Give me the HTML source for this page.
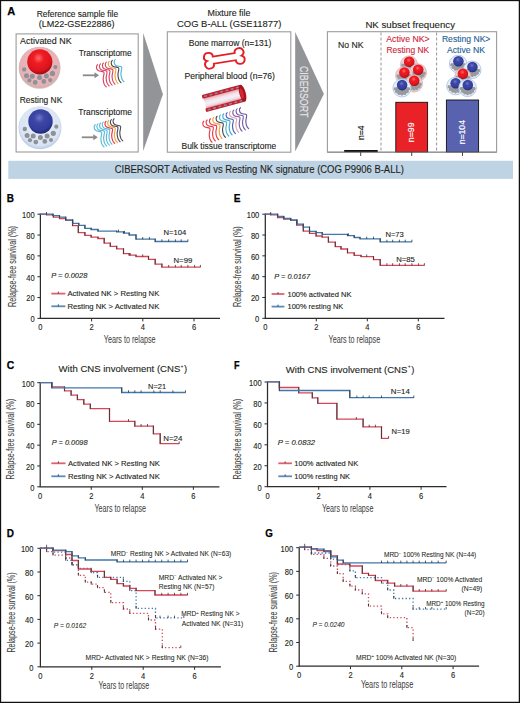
<!DOCTYPE html>
<html><head><meta charset="utf-8"><title>Figure</title>
<style>
html,body{margin:0;padding:0;background:#fff;}
body{width:520px;height:703px;overflow:hidden;font-family:"Liberation Sans",sans-serif;}
svg{display:block;}
</style></head><body>
<svg width="520" height="703" viewBox="0 0 520 703" font-family="Liberation Sans, sans-serif">
<defs>
<radialGradient id="gRedNuc" cx="0.45" cy="0.35" r="0.7">
 <stop offset="0" stop-color="#ff6a6a"/><stop offset="0.3" stop-color="#f01c24"/><stop offset="0.72" stop-color="#dc141c"/><stop offset="0.9" stop-color="#a80c14"/><stop offset="1" stop-color="#6a080c"/>
</radialGradient>
<radialGradient id="gBlueNuc" cx="0.45" cy="0.35" r="0.7">
 <stop offset="0" stop-color="#7078c8"/><stop offset="0.3" stop-color="#3d47a6"/><stop offset="0.72" stop-color="#323d9c"/><stop offset="0.9" stop-color="#232b7a"/><stop offset="1" stop-color="#141a52"/>
</radialGradient>
<radialGradient id="gRedCell" cx="0.5" cy="0.45" r="0.55">
 <stop offset="0" stop-color="#ebbcbe"/><stop offset="0.85" stop-color="#e6b2b5"/><stop offset="1" stop-color="#d9a9ab"/>
</radialGradient>
<radialGradient id="gBlueCell" cx="0.5" cy="0.45" r="0.55">
 <stop offset="0" stop-color="#e6edf7"/><stop offset="0.85" stop-color="#dbe5f3"/><stop offset="1" stop-color="#c5d5ec"/>
</radialGradient>
<linearGradient id="gVessel" x1="0" y1="0" x2="0" y2="1">
 <stop offset="0" stop-color="#e9a3b0"/><stop offset="0.3" stop-color="#f6dfe6"/><stop offset="0.55" stop-color="#eef3fa"/><stop offset="0.8" stop-color="#f3dbe3"/><stop offset="1" stop-color="#e59aa8"/>
</linearGradient>
</defs>
<rect x="0" y="0" width="520" height="703" fill="#ffffff"/>
<text x="7.20" y="15.20" font-size="11.8" fill="#000" font-weight="bold" textLength="8.00" lengthAdjust="spacingAndGlyphs" stroke="#000" stroke-width="0.25" >A</text>
<text x="36.70" y="16.90" font-size="8.5" fill="#231f20" textLength="81.40" lengthAdjust="spacingAndGlyphs" stroke="#231f20" stroke-width="0.12" >Reference sample file</text>
<text x="38.70" y="27.30" font-size="8.8" fill="#231f20" textLength="75.90" lengthAdjust="spacingAndGlyphs" stroke="#231f20" stroke-width="0.12" >(LM22-GSE22886)</text>
<text x="207.50" y="15.50" font-size="8.2" fill="#231f20" textLength="43.00" lengthAdjust="spacingAndGlyphs" stroke="#231f20" stroke-width="0.12" >Mixture file</text>
<text x="177.00" y="27.00" font-size="9.5" fill="#231f20" textLength="104.30" lengthAdjust="spacingAndGlyphs" stroke="#231f20" stroke-width="0.12" >COG B-ALL (GSE11877)</text>
<text x="365.40" y="27.70" font-size="9.3" fill="#231f20" textLength="89.60" lengthAdjust="spacingAndGlyphs" stroke="#231f20" stroke-width="0.12" >NK subset frequency</text>
<rect x="16.1" y="33.9" width="122.1" height="118.1" fill="none" stroke="#9c9c9c" stroke-width="1.1"/>
<rect x="167.3" y="31.8" width="123.5" height="120.4" fill="none" stroke="#9c9c9c" stroke-width="1.1"/>
<rect x="327.4" y="31.7" width="169.2" height="120.4" fill="none" stroke="#9c9c9c" stroke-width="1.1"/>
<polygon points="143.2,32.9 162.9,94.3 143.2,151.0" fill="#939498"/>
<polygon points="295.2,32.1 323.9,93.9 295.2,151.4" fill="#939498"/>
<text x="0" y="0" transform="translate(299.90,66.00) rotate(90)" font-size="10.4" fill="#e8e8ea" textLength="51.30" lengthAdjust="spacingAndGlyphs" stroke="#e8e8ea" stroke-width="0.15">CIBERSORT</text>
<circle cx="39.6" cy="67.89999999999999" r="20.900000000000002" fill="#c9c3c4"/>
<circle cx="39.6" cy="67.3" r="20.6" fill="url(#gRedCell)"/>
<circle cx="24.2" cy="69.4" r="2.2" fill="#8e9298"/>
<circle cx="26.5" cy="75.8" r="2.5" fill="#8e9298"/>
<circle cx="29.4" cy="80.4" r="2.1" fill="#8e9298"/>
<circle cx="32.3" cy="76.3" r="2.5" fill="#8e9298"/>
<circle cx="35.2" cy="82.4" r="2.4" fill="#8e9298"/>
<circle cx="39.5" cy="77.5" r="2.5" fill="#8e9298"/>
<circle cx="43.8" cy="81.5" r="2.4" fill="#8e9298"/>
<circle cx="46.4" cy="76.1" r="2.5" fill="#8e9298"/>
<circle cx="50.2" cy="80.1" r="2.1" fill="#8e9298"/>
<circle cx="52.5" cy="73.4" r="2.6" fill="#8e9298"/>
<circle cx="55.4" cy="67.1" r="2.1" fill="#8e9298"/>
<circle cx="39.8" cy="61.8" r="12.6" fill="url(#gRedNuc)"/>
<circle cx="40.0" cy="127.8" r="21.4" fill="#b9cbe6"/>
<circle cx="40.0" cy="127.2" r="21.0" fill="url(#gBlueCell)"/>
<circle cx="24.8" cy="129" r="2.2" fill="#8e9298"/>
<circle cx="27.1" cy="135.4" r="2.5" fill="#8e9298"/>
<circle cx="30" cy="140.2" r="2.1" fill="#8e9298"/>
<circle cx="33.2" cy="135.9" r="2.5" fill="#8e9298"/>
<circle cx="35.8" cy="142.1" r="2.4" fill="#8e9298"/>
<circle cx="40.4" cy="137.4" r="2.5" fill="#8e9298"/>
<circle cx="44.8" cy="141.4" r="2.4" fill="#8e9298"/>
<circle cx="47.1" cy="135.9" r="2.5" fill="#8e9298"/>
<circle cx="51" cy="140" r="2.1" fill="#8e9298"/>
<circle cx="53.3" cy="133.3" r="2.6" fill="#8e9298"/>
<circle cx="56.3" cy="126.7" r="2.1" fill="#8e9298"/>
<circle cx="40.5" cy="121.5" r="12.2" fill="url(#gBlueNuc)"/>
<text x="20.10" y="43.60" font-size="8.5" fill="#231f20" textLength="51.50" lengthAdjust="spacingAndGlyphs" stroke="#231f20" stroke-width="0.12" >Activated NK</text>
<text x="19.80" y="103.00" font-size="8.5" fill="#231f20" textLength="42.50" lengthAdjust="spacingAndGlyphs" stroke="#231f20" stroke-width="0.12" >Resting NK</text>
<text x="78.70" y="55.60" font-size="8.2" fill="#231f20" textLength="52.90" lengthAdjust="spacingAndGlyphs" stroke="#231f20" stroke-width="0.12" >Transcriptome</text>
<text x="78.30" y="115.40" font-size="8.2" fill="#231f20" textLength="53.60" lengthAdjust="spacingAndGlyphs" stroke="#231f20" stroke-width="0.12" >Transcriptome</text>
<line x1="82.8" y1="75.3" x2="95.5" y2="75.3" stroke="#8a8a8a" stroke-width="1.8"/>
<polygon points="94.5,72.3 99.0,75.3 94.5,78.3" fill="#8a8a8a"/>
<line x1="81.8" y1="137.3" x2="94.3" y2="137.3" stroke="#8a8a8a" stroke-width="1.8"/>
<polygon points="93.3,134.3 97.8,137.3 93.3,140.3" fill="#8a8a8a"/>
<path d="M97.50,64.70 C95.90,65.90 96.10,69.30 98.20,70.50 C99.90,71.50 102.70,71.30 103.80,72.10 C104.90,73.10 103.10,76.20 103.20,78.90 C103.30,82.20 104.30,85.20 106.20,86.80 " fill="none" stroke="#d64561" stroke-width="1.15" stroke-linecap="round"/>
<path d="M100.45,63.85 C98.85,65.05 99.05,68.45 101.15,69.65 C102.85,70.65 105.65,70.45 106.75,71.25 C107.85,72.25 106.05,75.35 106.15,78.05 C106.25,81.35 107.25,84.35 109.15,85.95 " fill="none" stroke="#d64561" stroke-width="1.15" stroke-linecap="round"/>
<path d="M103.40,63.00 C101.80,64.20 102.00,67.60 104.10,68.80 C105.80,69.80 108.60,69.60 109.70,70.40 C110.80,71.40 109.00,74.50 109.10,77.20 C109.20,80.50 110.20,83.50 112.10,85.10 " fill="none" stroke="#d64561" stroke-width="1.15" stroke-linecap="round"/>
<path d="M106.35,62.15 C104.75,63.35 104.95,66.75 107.05,67.95 C108.75,68.95 111.55,68.75 112.65,69.55 C113.75,70.55 111.95,73.65 112.05,76.35 C112.15,79.65 113.15,82.65 115.05,84.25 " fill="none" stroke="#d64561" stroke-width="1.15" stroke-linecap="round"/>
<path d="M109.30,61.30 C107.70,62.50 107.90,65.90 110.00,67.10 C111.70,68.10 114.50,67.90 115.60,68.70 C116.70,69.70 114.90,72.80 115.00,75.50 C115.10,78.80 116.10,81.80 118.00,83.40 " fill="none" stroke="#f6a13a" stroke-width="1.15" stroke-linecap="round"/>
<path d="M112.25,60.45 C110.65,61.65 110.85,65.05 112.95,66.25 C114.65,67.25 117.45,67.05 118.55,67.85 C119.65,68.85 117.85,71.95 117.95,74.65 C118.05,77.95 119.05,80.95 120.95,82.55 " fill="none" stroke="#4a4a55" stroke-width="1.15" stroke-linecap="round"/>
<path d="M115.20,59.60 C113.60,60.80 113.80,64.20 115.90,65.40 C117.60,66.40 120.40,66.20 121.50,67.00 C122.60,68.00 120.80,71.10 120.90,73.80 C121.00,77.10 122.00,80.10 123.90,81.70 " fill="none" stroke="#4ab7dc" stroke-width="1.15" stroke-linecap="round"/>
<path d="M95.20,124.70 C93.60,125.90 93.80,129.30 95.90,130.50 C97.60,131.50 100.40,131.30 101.50,132.10 C102.60,133.10 100.80,136.20 100.90,138.90 C101.00,142.20 102.00,145.20 103.90,146.80 " fill="none" stroke="#5bbad8" stroke-width="1.15" stroke-linecap="round"/>
<path d="M97.90,123.85 C96.30,125.05 96.50,128.45 98.60,129.65 C100.30,130.65 103.10,130.45 104.20,131.25 C105.30,132.25 103.50,135.35 103.60,138.05 C103.70,141.35 104.70,144.35 106.60,145.95 " fill="none" stroke="#5bbad8" stroke-width="1.15" stroke-linecap="round"/>
<path d="M100.60,123.00 C99.00,124.20 99.20,127.60 101.30,128.80 C103.00,129.80 105.80,129.60 106.90,130.40 C108.00,131.40 106.20,134.50 106.30,137.20 C106.40,140.50 107.40,143.50 109.30,145.10 " fill="none" stroke="#5bbad8" stroke-width="1.15" stroke-linecap="round"/>
<path d="M103.30,122.15 C101.70,123.35 101.90,126.75 104.00,127.95 C105.70,128.95 108.50,128.75 109.60,129.55 C110.70,130.55 108.90,133.65 109.00,136.35 C109.10,139.65 110.10,142.65 112.00,144.25 " fill="none" stroke="#5bbad8" stroke-width="1.15" stroke-linecap="round"/>
<path d="M106.00,121.30 C104.40,122.50 104.60,125.90 106.70,127.10 C108.40,128.10 111.20,127.90 112.30,128.70 C113.40,129.70 111.60,132.80 111.70,135.50 C111.80,138.80 112.80,141.80 114.70,143.40 " fill="none" stroke="#e8303a" stroke-width="1.15" stroke-linecap="round"/>
<path d="M108.70,120.45 C107.10,121.65 107.30,125.05 109.40,126.25 C111.10,127.25 113.90,127.05 115.00,127.85 C116.10,128.85 114.30,131.95 114.40,134.65 C114.50,137.95 115.50,140.95 117.40,142.55 " fill="none" stroke="#f6a13a" stroke-width="1.15" stroke-linecap="round"/>
<path d="M111.40,119.60 C109.80,120.80 110.00,124.20 112.10,125.40 C113.80,126.40 116.60,126.20 117.70,127.00 C118.80,128.00 117.00,131.10 117.10,133.80 C117.20,137.10 118.20,140.10 120.10,141.70 " fill="none" stroke="#4a4a55" stroke-width="1.15" stroke-linecap="round"/>
<path d="M114.10,118.75 C112.50,119.95 112.70,123.35 114.80,124.55 C116.50,125.55 119.30,125.35 120.40,126.15 C121.50,127.15 119.70,130.25 119.80,132.95 C119.90,136.25 120.90,139.25 122.80,140.85 " fill="none" stroke="#4a4a55" stroke-width="1.15" stroke-linecap="round"/>
<text x="188.80" y="45.70" font-size="8.2" fill="#231f20" textLength="82.50" lengthAdjust="spacingAndGlyphs" stroke="#231f20" stroke-width="0.12" >Bone marrow (n=131)</text>
<text x="184.50" y="79.40" font-size="8.2" fill="#231f20" textLength="90.50" lengthAdjust="spacingAndGlyphs" stroke="#231f20" stroke-width="0.12" >Peripheral blood (n=76)</text>
<text x="181.50" y="148.60" font-size="8.2" fill="#231f20" textLength="94.70" lengthAdjust="spacingAndGlyphs" stroke="#231f20" stroke-width="0.12" >Bulk tissue transcriptome</text>
<path d="M-11.4,-4 L11.4,-4 A4.6,4.6 0 1,1 17.88,0 A4.6,4.6 0 1,1 11.4,4 L-11.4,4 A4.6,4.6 0 1,1 -17.88,0 A4.6,4.6 0 1,1 -11.4,-4 Z" transform="translate(224.3,58.4) rotate(-9) scale(0.97,0.9)" fill="#fff" stroke="#e31e24" stroke-width="2"/>
<g transform="translate(224.2,98.2) rotate(-15)">
<rect x="-20" y="-5.2" width="39" height="10.4" fill="url(#gVessel)"/>
<rect x="-21" y="-8.8" width="40" height="3.8" rx="1.2" fill="#c8202e"/>
<rect x="-21" y="5.0" width="40" height="3.8" rx="1.2" fill="#c8202e"/>
<rect x="-19.00" y="-7.6" width="3.2" height="1.5" rx="0.7" fill="#7e93a3"/>
<rect x="-19.00" y="6.2" width="3.2" height="1.5" rx="0.7" fill="#7e93a3"/>
<rect x="-13.50" y="-7.6" width="3.2" height="1.5" rx="0.7" fill="#7e93a3"/>
<rect x="-13.50" y="6.2" width="3.2" height="1.5" rx="0.7" fill="#7e93a3"/>
<rect x="-8.00" y="-7.6" width="3.2" height="1.5" rx="0.7" fill="#7e93a3"/>
<rect x="-8.00" y="6.2" width="3.2" height="1.5" rx="0.7" fill="#7e93a3"/>
<rect x="-2.50" y="-7.6" width="3.2" height="1.5" rx="0.7" fill="#7e93a3"/>
<rect x="-2.50" y="6.2" width="3.2" height="1.5" rx="0.7" fill="#7e93a3"/>
<rect x="3.00" y="-7.6" width="3.2" height="1.5" rx="0.7" fill="#7e93a3"/>
<rect x="3.00" y="6.2" width="3.2" height="1.5" rx="0.7" fill="#7e93a3"/>
<rect x="8.50" y="-7.6" width="3.2" height="1.5" rx="0.7" fill="#7e93a3"/>
<rect x="8.50" y="6.2" width="3.2" height="1.5" rx="0.7" fill="#7e93a3"/>
<rect x="14.00" y="-7.6" width="3.2" height="1.5" rx="0.7" fill="#7e93a3"/>
<rect x="14.00" y="6.2" width="3.2" height="1.5" rx="0.7" fill="#7e93a3"/>
<ellipse cx="19" cy="0" rx="3.2" ry="8.8" fill="#a8141e"/>
<ellipse cx="18.2" cy="0" rx="1.6" ry="5.2" fill="#d42a38"/>
</g>
<path d="M203.80,121.20 C202.28,122.34 202.47,125.57 204.47,126.71 C206.08,127.66 208.74,127.47 209.79,128.23 C210.83,129.18 209.12,132.12 209.22,134.69 C209.31,137.82 210.26,140.68 212.06,142.19 " fill="none" stroke="#e63a48" stroke-width="1.15" stroke-linecap="round"/>
<path d="M207.13,119.97 C205.61,121.11 205.80,124.34 207.80,125.48 C209.41,126.43 212.07,126.24 213.12,127.00 C214.16,127.95 212.45,130.90 212.55,133.46 C212.64,136.59 213.59,139.44 215.40,140.97 " fill="none" stroke="#e63a48" stroke-width="1.15" stroke-linecap="round"/>
<path d="M210.46,118.74 C208.94,119.88 209.13,123.11 211.12,124.25 C212.74,125.20 215.40,125.01 216.44,125.77 C217.49,126.72 215.78,129.67 215.88,132.23 C215.97,135.37 216.92,138.22 218.72,139.74 " fill="none" stroke="#e63a48" stroke-width="1.15" stroke-linecap="round"/>
<path d="M213.79,117.51 C212.27,118.65 212.46,121.88 214.46,123.02 C216.07,123.97 218.73,123.78 219.78,124.54 C220.82,125.49 219.11,128.44 219.21,131.00 C219.30,134.13 220.25,136.99 222.06,138.50 " fill="none" stroke="#f6a13a" stroke-width="1.15" stroke-linecap="round"/>
<path d="M217.12,116.28 C215.60,117.42 215.79,120.65 217.78,121.79 C219.40,122.74 222.06,122.55 223.11,123.31 C224.15,124.26 222.44,127.20 222.53,129.77 C222.63,132.91 223.58,135.75 225.38,137.28 " fill="none" stroke="#4a4a55" stroke-width="1.15" stroke-linecap="round"/>
<path d="M220.45,115.05 C218.93,116.19 219.12,119.42 221.12,120.56 C222.73,121.51 225.39,121.32 226.44,122.08 C227.48,123.03 225.77,125.97 225.87,128.54 C225.96,131.68 226.91,134.53 228.72,136.04 " fill="none" stroke="#45b5d5" stroke-width="1.15" stroke-linecap="round"/>
<path d="M223.78,113.82 C222.26,114.96 222.45,118.19 224.44,119.33 C226.06,120.28 228.72,120.09 229.76,120.85 C230.81,121.80 229.10,124.75 229.19,127.31 C229.29,130.44 230.24,133.30 232.04,134.81 " fill="none" stroke="#3fa9c8" stroke-width="1.15" stroke-linecap="round"/>
<path d="M227.11,112.59 C225.59,113.73 225.78,116.96 227.78,118.10 C229.39,119.05 232.05,118.86 233.10,119.62 C234.14,120.57 232.43,123.52 232.53,126.08 C232.62,129.22 233.57,132.06 235.38,133.59 " fill="none" stroke="#4a5fc0" stroke-width="1.15" stroke-linecap="round"/>
<path d="M230.44,111.36 C228.92,112.50 229.11,115.73 231.10,116.87 C232.72,117.82 235.38,117.63 236.43,118.39 C237.47,119.34 235.76,122.28 235.85,124.85 C235.95,127.98 236.90,130.84 238.70,132.35 " fill="none" stroke="#e8a0a8" stroke-width="1.15" stroke-linecap="round"/>
<path d="M233.77,110.13 C232.25,111.27 232.44,114.50 234.44,115.64 C236.05,116.59 238.71,116.40 239.75,117.16 C240.80,118.11 239.09,121.05 239.19,123.62 C239.28,126.75 240.23,129.60 242.03,131.12 " fill="none" stroke="#7a5fa8" stroke-width="1.15" stroke-linecap="round"/>
<path d="M237.10,108.90 C235.58,110.04 235.77,113.27 237.77,114.41 C239.38,115.36 242.04,115.17 243.09,115.93 C244.13,116.88 242.42,119.83 242.52,122.39 C242.61,125.53 243.56,128.38 245.37,129.90 " fill="none" stroke="#7a5fa8" stroke-width="1.15" stroke-linecap="round"/>
<path d="M240.43,107.67 C238.91,108.81 239.10,112.04 241.09,113.18 C242.71,114.13 245.37,113.94 246.42,114.70 C247.46,115.65 245.75,118.59 245.84,121.16 C245.94,124.30 246.89,127.14 248.69,128.66 " fill="none" stroke="#6f55a0" stroke-width="1.15" stroke-linecap="round"/>
<text x="338.00" y="47.50" font-size="8.8" fill="#231f20" textLength="25.50" lengthAdjust="spacingAndGlyphs" stroke="#231f20" stroke-width="0.12" >No NK</text>
<text x="386.30" y="41.70" font-size="8.8" fill="#d21f3c" textLength="43.40" lengthAdjust="spacingAndGlyphs" stroke="#d21f3c" stroke-width="0.12" >Active NK&gt;</text>
<text x="386.50" y="52.70" font-size="8.8" fill="#d21f3c" textLength="42.70" lengthAdjust="spacingAndGlyphs" stroke="#d21f3c" stroke-width="0.12" >Resting NK</text>
<text x="441.90" y="41.70" font-size="8.8" fill="#1f5f96" textLength="48.50" lengthAdjust="spacingAndGlyphs" stroke="#1f5f96" stroke-width="0.12" >Resting NK&gt;</text>
<text x="447.00" y="52.70" font-size="8.8" fill="#1f5f96" textLength="38.00" lengthAdjust="spacingAndGlyphs" stroke="#1f5f96" stroke-width="0.12" >Active NK</text>
<line x1="381.0" y1="32.5" x2="381.0" y2="151.5" stroke="#8a8a8a" stroke-width="0.9" stroke-dasharray="3,2"/>
<line x1="436.6" y1="32.5" x2="436.6" y2="151.5" stroke="#8a8a8a" stroke-width="0.9" stroke-dasharray="3,2"/>
<rect x="344.2" y="150.0" width="33.5" height="2.2" fill="#111"/>
<rect x="395.8" y="102.3" width="31.8" height="49.8" fill="#e92228" stroke="#111" stroke-width="0.9"/>
<rect x="446.4" y="100.0" width="32.2" height="52.1" fill="#5862ae" stroke="#111" stroke-width="0.9"/>
<line x1="327.4" y1="152.2" x2="496.6" y2="152.2" stroke="#8a8a8a" stroke-width="1.1"/>
<line x1="360.7" y1="152.2" x2="360.7" y2="156.0" stroke="#333" stroke-width="0.9"/>
<line x1="411.7" y1="152.2" x2="411.7" y2="156.0" stroke="#333" stroke-width="0.9"/>
<line x1="462.5" y1="152.2" x2="462.5" y2="156.0" stroke="#333" stroke-width="0.9"/>
<text x="0" y="0" transform="translate(364.00,140.00) rotate(-90)" font-size="9.0" fill="#111" textLength="14.60" lengthAdjust="spacingAndGlyphs" stroke="#111" stroke-width="0.15">n=4</text>
<text x="0" y="0" transform="translate(413.70,142.20) rotate(-90)" font-size="8.6" fill="#fff" textLength="19.80" lengthAdjust="spacingAndGlyphs" stroke="#fff" stroke-width="0.15">n=99</text>
<text x="0" y="0" transform="translate(464.60,144.30) rotate(-90)" font-size="8.6" fill="#fff" textLength="24.30" lengthAdjust="spacingAndGlyphs" stroke="#fff" stroke-width="0.15">n=104</text>
<circle cx="409.0" cy="64.5" r="8.6" fill="#ecd0d2" stroke="#d7b3b6" stroke-width="0.8"/>
<path d="M401.60,63.70 A7.40,7.40 0 0,0 416.40,63.70 Z" fill="#979a9e"/>
<circle cx="415.78" cy="65.44" r="1.1" fill="#979a9e"/>
<circle cx="414.39" cy="68.16" r="1.1" fill="#979a9e"/>
<circle cx="411.98" cy="70.03" r="1.1" fill="#979a9e"/>
<circle cx="409.00" cy="70.70" r="1.1" fill="#979a9e"/>
<circle cx="406.02" cy="70.03" r="1.1" fill="#979a9e"/>
<circle cx="403.61" cy="68.16" r="1.1" fill="#979a9e"/>
<circle cx="402.22" cy="65.44" r="1.1" fill="#979a9e"/>
<circle cx="409.2" cy="61.7" r="5.3" fill="url(#gRedNuc)"/>
<circle cx="418.0" cy="72.5" r="8.6" fill="#ecd0d2" stroke="#d7b3b6" stroke-width="0.8"/>
<path d="M410.60,71.70 A7.40,7.40 0 0,0 425.40,71.70 Z" fill="#979a9e"/>
<circle cx="424.78" cy="73.44" r="1.1" fill="#979a9e"/>
<circle cx="423.39" cy="76.16" r="1.1" fill="#979a9e"/>
<circle cx="420.98" cy="78.03" r="1.1" fill="#979a9e"/>
<circle cx="418.00" cy="78.70" r="1.1" fill="#979a9e"/>
<circle cx="415.02" cy="78.03" r="1.1" fill="#979a9e"/>
<circle cx="412.61" cy="76.16" r="1.1" fill="#979a9e"/>
<circle cx="411.22" cy="73.44" r="1.1" fill="#979a9e"/>
<circle cx="418.2" cy="69.7" r="5.3" fill="url(#gRedNuc)"/>
<circle cx="404.2" cy="75.4" r="8.6" fill="#ecd0d2" stroke="#d7b3b6" stroke-width="0.8"/>
<path d="M396.80,74.60 A7.40,7.40 0 0,0 411.60,74.60 Z" fill="#979a9e"/>
<circle cx="410.98" cy="76.34" r="1.1" fill="#979a9e"/>
<circle cx="409.59" cy="79.06" r="1.1" fill="#979a9e"/>
<circle cx="407.18" cy="80.93" r="1.1" fill="#979a9e"/>
<circle cx="404.20" cy="81.60" r="1.1" fill="#979a9e"/>
<circle cx="401.22" cy="80.93" r="1.1" fill="#979a9e"/>
<circle cx="398.81" cy="79.06" r="1.1" fill="#979a9e"/>
<circle cx="397.42" cy="76.34" r="1.1" fill="#979a9e"/>
<circle cx="404.4" cy="72.60000000000001" r="5.3" fill="url(#gRedNuc)"/>
<circle cx="414.0" cy="83.5" r="8.6" fill="#ecd0d2" stroke="#d7b3b6" stroke-width="0.8"/>
<path d="M406.60,82.70 A7.40,7.40 0 0,0 421.40,82.70 Z" fill="#979a9e"/>
<circle cx="420.78" cy="84.44" r="1.1" fill="#979a9e"/>
<circle cx="419.39" cy="87.16" r="1.1" fill="#979a9e"/>
<circle cx="416.98" cy="89.03" r="1.1" fill="#979a9e"/>
<circle cx="414.00" cy="89.70" r="1.1" fill="#979a9e"/>
<circle cx="411.02" cy="89.03" r="1.1" fill="#979a9e"/>
<circle cx="408.61" cy="87.16" r="1.1" fill="#979a9e"/>
<circle cx="407.22" cy="84.44" r="1.1" fill="#979a9e"/>
<circle cx="414.2" cy="80.7" r="5.3" fill="url(#gRedNuc)"/>
<circle cx="401.9" cy="88.0" r="9.0" fill="#e9eff8" stroke="#b3cbe9" stroke-width="1.0"/>
<path d="M394.10,87.20 A7.80,7.80 0 0,0 409.70,87.20 Z" fill="#979a9e"/>
<circle cx="409.07" cy="89.04" r="1.1" fill="#979a9e"/>
<circle cx="407.60" cy="91.92" r="1.1" fill="#979a9e"/>
<circle cx="405.05" cy="93.90" r="1.1" fill="#979a9e"/>
<circle cx="401.90" cy="94.60" r="1.1" fill="#979a9e"/>
<circle cx="398.75" cy="93.90" r="1.1" fill="#979a9e"/>
<circle cx="396.20" cy="91.92" r="1.1" fill="#979a9e"/>
<circle cx="394.73" cy="89.04" r="1.1" fill="#979a9e"/>
<circle cx="402.09999999999997" cy="85.1" r="5.3" fill="url(#gBlueNuc)"/>
<circle cx="458.2" cy="64.0" r="8.8" fill="#e9eff8" stroke="#b3cbe9" stroke-width="1.0"/>
<path d="M450.60,63.20 A7.60,7.60 0 0,0 465.80,63.20 Z" fill="#979a9e"/>
<circle cx="465.17" cy="64.99" r="1.1" fill="#979a9e"/>
<circle cx="463.75" cy="67.79" r="1.1" fill="#979a9e"/>
<circle cx="461.27" cy="69.71" r="1.1" fill="#979a9e"/>
<circle cx="458.20" cy="70.40" r="1.1" fill="#979a9e"/>
<circle cx="455.13" cy="69.71" r="1.1" fill="#979a9e"/>
<circle cx="452.65" cy="67.79" r="1.1" fill="#979a9e"/>
<circle cx="451.23" cy="64.99" r="1.1" fill="#979a9e"/>
<circle cx="458.4" cy="61.2" r="5.3" fill="url(#gBlueNuc)"/>
<circle cx="472.2" cy="69.8" r="8.8" fill="#e9eff8" stroke="#b3cbe9" stroke-width="1.0"/>
<path d="M464.60,69.00 A7.60,7.60 0 0,0 479.80,69.00 Z" fill="#979a9e"/>
<circle cx="479.17" cy="70.79" r="1.1" fill="#979a9e"/>
<circle cx="477.75" cy="73.59" r="1.1" fill="#979a9e"/>
<circle cx="475.27" cy="75.51" r="1.1" fill="#979a9e"/>
<circle cx="472.20" cy="76.20" r="1.1" fill="#979a9e"/>
<circle cx="469.13" cy="75.51" r="1.1" fill="#979a9e"/>
<circle cx="466.65" cy="73.59" r="1.1" fill="#979a9e"/>
<circle cx="465.23" cy="70.79" r="1.1" fill="#979a9e"/>
<circle cx="472.4" cy="67.0" r="5.3" fill="url(#gBlueNuc)"/>
<circle cx="462.7" cy="76.5" r="8.0" fill="#ecd0d2" stroke="#d7b3b6" stroke-width="0.8"/>
<path d="M455.90,75.70 A6.80,6.80 0 0,0 469.50,75.70 Z" fill="#979a9e"/>
<circle cx="468.90" cy="77.29" r="1.1" fill="#979a9e"/>
<circle cx="467.63" cy="79.78" r="1.1" fill="#979a9e"/>
<circle cx="465.42" cy="81.49" r="1.1" fill="#979a9e"/>
<circle cx="462.70" cy="82.10" r="1.1" fill="#979a9e"/>
<circle cx="459.98" cy="81.49" r="1.1" fill="#979a9e"/>
<circle cx="457.77" cy="79.78" r="1.1" fill="#979a9e"/>
<circle cx="456.50" cy="77.29" r="1.1" fill="#979a9e"/>
<circle cx="462.9" cy="73.7" r="5.3" fill="url(#gRedNuc)"/>
<circle cx="455.5" cy="86.0" r="8.8" fill="#e9eff8" stroke="#b3cbe9" stroke-width="1.0"/>
<path d="M447.90,85.20 A7.60,7.60 0 0,0 463.10,85.20 Z" fill="#979a9e"/>
<circle cx="462.47" cy="86.99" r="1.1" fill="#979a9e"/>
<circle cx="461.05" cy="89.79" r="1.1" fill="#979a9e"/>
<circle cx="458.57" cy="91.71" r="1.1" fill="#979a9e"/>
<circle cx="455.50" cy="92.40" r="1.1" fill="#979a9e"/>
<circle cx="452.43" cy="91.71" r="1.1" fill="#979a9e"/>
<circle cx="449.95" cy="89.79" r="1.1" fill="#979a9e"/>
<circle cx="448.53" cy="86.99" r="1.1" fill="#979a9e"/>
<circle cx="455.7" cy="83.2" r="5.3" fill="url(#gBlueNuc)"/>
<circle cx="467.6" cy="87.8" r="8.8" fill="#e9eff8" stroke="#b3cbe9" stroke-width="1.0"/>
<path d="M460.00,87.00 A7.60,7.60 0 0,0 475.20,87.00 Z" fill="#979a9e"/>
<circle cx="474.57" cy="88.79" r="1.1" fill="#979a9e"/>
<circle cx="473.15" cy="91.59" r="1.1" fill="#979a9e"/>
<circle cx="470.67" cy="93.51" r="1.1" fill="#979a9e"/>
<circle cx="467.60" cy="94.20" r="1.1" fill="#979a9e"/>
<circle cx="464.53" cy="93.51" r="1.1" fill="#979a9e"/>
<circle cx="462.05" cy="91.59" r="1.1" fill="#979a9e"/>
<circle cx="460.63" cy="88.79" r="1.1" fill="#979a9e"/>
<circle cx="467.8" cy="85.0" r="5.3" fill="url(#gBlueNuc)"/>
<rect x="8.3" y="160.8" width="504.7" height="18.1" fill="#bed3e4"/>
<text x="114.80" y="172.70" font-size="10.0" fill="#231f20" textLength="289.00" lengthAdjust="spacingAndGlyphs" stroke="#231f20" stroke-width="0.12" >CIBERSORT Activated vs Resting NK signature (COG P9906 B-ALL)</text>
<text x="6.80" y="201.60" font-size="11.8" fill="#000" font-weight="bold" textLength="7.20" lengthAdjust="spacingAndGlyphs" stroke="#000" stroke-width="0.25" >B</text>
<line x1="40.4" y1="213.6" x2="40.4" y2="318.4" stroke="#2b2b2b" stroke-width="1.25"/>
<line x1="39.8" y1="318.4" x2="220.0" y2="318.4" stroke="#2b2b2b" stroke-width="1.25"/>
<line x1="37.4" y1="318.40" x2="40.4" y2="318.40" stroke="#2b2b2b" stroke-width="1.0"/>
<text x="30.50" y="322.20" font-size="8.4" fill="#231f20" textLength="4.20" lengthAdjust="spacingAndGlyphs" stroke="#231f20" stroke-width="0.12" >0</text>
<line x1="37.4" y1="297.56" x2="40.4" y2="297.56" stroke="#2b2b2b" stroke-width="1.0"/>
<text x="26.30" y="301.36" font-size="8.4" fill="#231f20" textLength="8.40" lengthAdjust="spacingAndGlyphs" stroke="#231f20" stroke-width="0.12" >20</text>
<line x1="37.4" y1="276.72" x2="40.4" y2="276.72" stroke="#2b2b2b" stroke-width="1.0"/>
<text x="26.30" y="280.52" font-size="8.4" fill="#231f20" textLength="8.40" lengthAdjust="spacingAndGlyphs" stroke="#231f20" stroke-width="0.12" >40</text>
<line x1="37.4" y1="255.88" x2="40.4" y2="255.88" stroke="#2b2b2b" stroke-width="1.0"/>
<text x="26.30" y="259.68" font-size="8.4" fill="#231f20" textLength="8.40" lengthAdjust="spacingAndGlyphs" stroke="#231f20" stroke-width="0.12" >60</text>
<line x1="37.4" y1="235.04" x2="40.4" y2="235.04" stroke="#2b2b2b" stroke-width="1.0"/>
<text x="26.30" y="238.84" font-size="8.4" fill="#231f20" textLength="8.40" lengthAdjust="spacingAndGlyphs" stroke="#231f20" stroke-width="0.12" >80</text>
<line x1="37.4" y1="214.20" x2="40.4" y2="214.20" stroke="#2b2b2b" stroke-width="1.0"/>
<text x="22.10" y="218.00" font-size="8.4" fill="#231f20" textLength="12.60" lengthAdjust="spacingAndGlyphs" stroke="#231f20" stroke-width="0.12" >100</text>
<text x="38.30" y="330.40" font-size="8.4" fill="#231f20" textLength="4.20" lengthAdjust="spacingAndGlyphs" stroke="#231f20" stroke-width="0.12" >0</text>
<line x1="91.60" y1="318.4" x2="91.60" y2="321.4" stroke="#2b2b2b" stroke-width="1.0"/>
<text x="89.50" y="330.40" font-size="8.4" fill="#231f20" textLength="4.20" lengthAdjust="spacingAndGlyphs" stroke="#231f20" stroke-width="0.12" >2</text>
<line x1="142.80" y1="318.4" x2="142.80" y2="321.4" stroke="#2b2b2b" stroke-width="1.0"/>
<text x="140.70" y="330.40" font-size="8.4" fill="#231f20" textLength="4.20" lengthAdjust="spacingAndGlyphs" stroke="#231f20" stroke-width="0.12" >4</text>
<line x1="194.00" y1="318.4" x2="194.00" y2="321.4" stroke="#2b2b2b" stroke-width="1.0"/>
<text x="191.90" y="330.40" font-size="8.4" fill="#231f20" textLength="4.20" lengthAdjust="spacingAndGlyphs" stroke="#231f20" stroke-width="0.12" >6</text>
<text x="0" y="0" transform="translate(15.70,306.90) rotate(-90)" font-size="10.0" fill="#444444" textLength="80.90" lengthAdjust="spacingAndGlyphs" stroke="#444444" stroke-width="0.1">Relapse-free survival (%)</text>
<text x="103.80" y="343.00" font-size="10.4" fill="#444444" textLength="51.70" lengthAdjust="spacingAndGlyphs" stroke="#444444" stroke-width="0.05" >Years to relapse</text>
<path d="M40.40,214.20 L46.50,214.20 L46.50,214.90 L53.40,214.90 L53.40,217.20 L59.50,217.20 L59.50,218.50 L65.70,218.50 L65.70,220.30 L72.60,220.30 L72.60,225.70 L78.30,225.70 L78.30,232.60 L84.90,232.60 L84.90,235.40 L91.10,235.40 L91.10,237.20 L98.00,237.20 L98.00,238.50 L104.20,238.50 L104.20,243.10 L110.30,243.10 L110.30,246.30 L116.70,246.30 L116.70,248.80 L123.50,248.80 L123.50,253.70 L129.20,253.70 L129.20,255.20 L136.00,255.20 L136.00,256.50 L148.50,256.50 L148.50,259.40 L155.20,259.40 L155.20,264.20 L161.90,264.20 L161.90,267.10 L200.40,267.10" fill="none" stroke="#d84659" stroke-width="1.3"/>
<line x1="46.50" y1="213.70" x2="46.50" y2="215.20" stroke="#3a3a3a" stroke-width="0.9"/>
<line x1="53.40" y1="214.40" x2="53.40" y2="217.50" stroke="#3a3a3a" stroke-width="0.9"/>
<line x1="59.50" y1="216.70" x2="59.50" y2="218.80" stroke="#3a3a3a" stroke-width="0.9"/>
<line x1="65.70" y1="218.00" x2="65.70" y2="220.60" stroke="#3a3a3a" stroke-width="0.9"/>
<line x1="72.60" y1="219.80" x2="72.60" y2="226.00" stroke="#3a3a3a" stroke-width="0.9"/>
<line x1="78.30" y1="225.20" x2="78.30" y2="232.90" stroke="#3a3a3a" stroke-width="0.9"/>
<line x1="84.90" y1="232.10" x2="84.90" y2="235.70" stroke="#3a3a3a" stroke-width="0.9"/>
<line x1="91.10" y1="234.90" x2="91.10" y2="237.50" stroke="#3a3a3a" stroke-width="0.9"/>
<line x1="98.00" y1="236.70" x2="98.00" y2="238.80" stroke="#3a3a3a" stroke-width="0.9"/>
<line x1="104.20" y1="238.00" x2="104.20" y2="243.40" stroke="#3a3a3a" stroke-width="0.9"/>
<line x1="110.30" y1="242.60" x2="110.30" y2="246.60" stroke="#3a3a3a" stroke-width="0.9"/>
<line x1="116.70" y1="245.80" x2="116.70" y2="249.10" stroke="#3a3a3a" stroke-width="0.9"/>
<line x1="123.50" y1="248.30" x2="123.50" y2="254.00" stroke="#3a3a3a" stroke-width="0.9"/>
<line x1="129.20" y1="253.20" x2="129.20" y2="255.50" stroke="#3a3a3a" stroke-width="0.9"/>
<line x1="136.00" y1="254.70" x2="136.00" y2="256.80" stroke="#3a3a3a" stroke-width="0.9"/>
<line x1="148.50" y1="256.00" x2="148.50" y2="259.70" stroke="#3a3a3a" stroke-width="0.9"/>
<line x1="155.20" y1="258.90" x2="155.20" y2="264.50" stroke="#3a3a3a" stroke-width="0.9"/>
<line x1="161.90" y1="263.70" x2="161.90" y2="267.40" stroke="#3a3a3a" stroke-width="0.9"/>
<path d="M40.40,214.20 L52.90,214.20 L52.90,215.70 L59.50,215.70 L59.50,217.20 L65.70,217.20 L65.70,220.00 L72.60,220.00 L72.60,223.40 L78.80,223.40 L78.80,225.40 L84.90,225.40 L84.90,228.30 L91.10,228.30 L91.10,229.50 L98.00,229.50 L98.00,231.10 L116.70,231.10 L116.70,231.90 L123.50,231.90 L123.50,233.10 L129.20,233.10 L129.20,235.00 L136.00,235.00 L136.00,239.20 L155.20,239.20 L155.20,241.50 L187.90,241.50" fill="none" stroke="#4079aa" stroke-width="1.3"/>
<line x1="52.90" y1="213.70" x2="52.90" y2="216.00" stroke="#3a3a3a" stroke-width="0.9"/>
<line x1="59.50" y1="215.20" x2="59.50" y2="217.50" stroke="#3a3a3a" stroke-width="0.9"/>
<line x1="65.70" y1="216.70" x2="65.70" y2="220.30" stroke="#3a3a3a" stroke-width="0.9"/>
<line x1="72.60" y1="219.50" x2="72.60" y2="223.70" stroke="#3a3a3a" stroke-width="0.9"/>
<line x1="78.80" y1="222.90" x2="78.80" y2="225.70" stroke="#3a3a3a" stroke-width="0.9"/>
<line x1="84.90" y1="224.90" x2="84.90" y2="228.60" stroke="#3a3a3a" stroke-width="0.9"/>
<line x1="91.10" y1="227.80" x2="91.10" y2="229.80" stroke="#3a3a3a" stroke-width="0.9"/>
<line x1="98.00" y1="229.00" x2="98.00" y2="231.40" stroke="#3a3a3a" stroke-width="0.9"/>
<line x1="116.70" y1="230.60" x2="116.70" y2="232.20" stroke="#3a3a3a" stroke-width="0.9"/>
<line x1="123.50" y1="231.40" x2="123.50" y2="233.40" stroke="#3a3a3a" stroke-width="0.9"/>
<line x1="129.20" y1="232.60" x2="129.20" y2="235.30" stroke="#3a3a3a" stroke-width="0.9"/>
<line x1="136.00" y1="234.50" x2="136.00" y2="239.50" stroke="#3a3a3a" stroke-width="0.9"/>
<line x1="155.20" y1="238.70" x2="155.20" y2="241.80" stroke="#3a3a3a" stroke-width="0.9"/>
<line x1="46.50" y1="212.00" x2="46.50" y2="214.40" stroke="#333" stroke-width="0.8"/>
<line x1="118.50" y1="229.70" x2="118.50" y2="232.10" stroke="#333" stroke-width="0.8"/>
<line x1="124.50" y1="230.90" x2="124.50" y2="233.30" stroke="#333" stroke-width="0.8"/>
<line x1="142.70" y1="237.00" x2="142.70" y2="239.40" stroke="#333" stroke-width="0.8"/>
<line x1="149.40" y1="237.00" x2="149.40" y2="239.40" stroke="#333" stroke-width="0.8"/>
<line x1="161.90" y1="239.30" x2="161.90" y2="241.70" stroke="#333" stroke-width="0.8"/>
<line x1="168.70" y1="239.30" x2="168.70" y2="241.70" stroke="#333" stroke-width="0.8"/>
<line x1="175.40" y1="239.30" x2="175.40" y2="241.70" stroke="#333" stroke-width="0.8"/>
<line x1="181.20" y1="239.30" x2="181.20" y2="241.70" stroke="#333" stroke-width="0.8"/>
<line x1="187.90" y1="239.30" x2="187.90" y2="241.70" stroke="#333" stroke-width="0.8"/>
<line x1="130.20" y1="253.00" x2="130.20" y2="255.40" stroke="#333" stroke-width="0.8"/>
<line x1="142.70" y1="254.30" x2="142.70" y2="256.70" stroke="#333" stroke-width="0.8"/>
<line x1="168.70" y1="264.90" x2="168.70" y2="267.30" stroke="#333" stroke-width="0.8"/>
<line x1="175.40" y1="264.90" x2="175.40" y2="267.30" stroke="#333" stroke-width="0.8"/>
<line x1="181.20" y1="264.90" x2="181.20" y2="267.30" stroke="#333" stroke-width="0.8"/>
<line x1="187.90" y1="264.90" x2="187.90" y2="267.30" stroke="#333" stroke-width="0.8"/>
<line x1="194.60" y1="264.90" x2="194.60" y2="267.30" stroke="#333" stroke-width="0.8"/>
<line x1="200.40" y1="264.90" x2="200.40" y2="267.30" stroke="#333" stroke-width="0.8"/>
<text x="163.50" y="235.20" font-size="7.6" fill="#231f20" textLength="22.80" lengthAdjust="spacingAndGlyphs" stroke="#231f20" stroke-width="0.12" >N=104</text>
<text x="173.50" y="262.50" font-size="7.6" fill="#231f20" textLength="18.80" lengthAdjust="spacingAndGlyphs" stroke="#231f20" stroke-width="0.12" >N=99</text>
<text x="51.30" y="277.70" font-size="7.6" fill="#231f20" font-style="italic" textLength="36.00" lengthAdjust="spacingAndGlyphs" stroke="#231f20" stroke-width="0.12" >P = 0.0028</text>
<line x1="51.3" y1="293.6" x2="65.4" y2="293.6" stroke="#d84659" stroke-width="1.8" stroke-opacity="0.85"/>
<line x1="58.35" y1="291.6" x2="58.35" y2="293.6" stroke="#333" stroke-width="0.8"/>
<text x="67.40" y="296.30" font-size="7.6" fill="#231f20" textLength="91.90" lengthAdjust="spacingAndGlyphs" stroke="#231f20" stroke-width="0.12" >Activated NK &gt; Resting NK</text>
<line x1="51.3" y1="306.3" x2="65.4" y2="306.3" stroke="#4079aa" stroke-width="1.8" stroke-opacity="0.85"/>
<line x1="58.35" y1="304.3" x2="58.35" y2="306.3" stroke="#333" stroke-width="0.8"/>
<text x="67.40" y="309.00" font-size="7.6" fill="#231f20" textLength="91.90" lengthAdjust="spacingAndGlyphs" stroke="#231f20" stroke-width="0.12" >Resting NK &gt; Activated NK</text>
<text x="233.80" y="201.60" font-size="11.8" fill="#000" font-weight="bold" textLength="6.80" lengthAdjust="spacingAndGlyphs" stroke="#000" stroke-width="0.25" >E</text>
<line x1="265.3" y1="213.6" x2="265.3" y2="318.3" stroke="#2b2b2b" stroke-width="1.25"/>
<line x1="264.7" y1="318.3" x2="444.5" y2="318.3" stroke="#2b2b2b" stroke-width="1.25"/>
<line x1="262.3" y1="318.30" x2="265.3" y2="318.30" stroke="#2b2b2b" stroke-width="1.0"/>
<text x="255.10" y="322.10" font-size="8.4" fill="#231f20" textLength="4.20" lengthAdjust="spacingAndGlyphs" stroke="#231f20" stroke-width="0.12" >0</text>
<line x1="262.3" y1="297.48" x2="265.3" y2="297.48" stroke="#2b2b2b" stroke-width="1.0"/>
<text x="250.90" y="301.28" font-size="8.4" fill="#231f20" textLength="8.40" lengthAdjust="spacingAndGlyphs" stroke="#231f20" stroke-width="0.12" >20</text>
<line x1="262.3" y1="276.66" x2="265.3" y2="276.66" stroke="#2b2b2b" stroke-width="1.0"/>
<text x="250.90" y="280.46" font-size="8.4" fill="#231f20" textLength="8.40" lengthAdjust="spacingAndGlyphs" stroke="#231f20" stroke-width="0.12" >40</text>
<line x1="262.3" y1="255.84" x2="265.3" y2="255.84" stroke="#2b2b2b" stroke-width="1.0"/>
<text x="250.90" y="259.64" font-size="8.4" fill="#231f20" textLength="8.40" lengthAdjust="spacingAndGlyphs" stroke="#231f20" stroke-width="0.12" >60</text>
<line x1="262.3" y1="235.02" x2="265.3" y2="235.02" stroke="#2b2b2b" stroke-width="1.0"/>
<text x="250.90" y="238.82" font-size="8.4" fill="#231f20" textLength="8.40" lengthAdjust="spacingAndGlyphs" stroke="#231f20" stroke-width="0.12" >80</text>
<line x1="262.3" y1="214.20" x2="265.3" y2="214.20" stroke="#2b2b2b" stroke-width="1.0"/>
<text x="246.70" y="218.00" font-size="8.4" fill="#231f20" textLength="12.60" lengthAdjust="spacingAndGlyphs" stroke="#231f20" stroke-width="0.12" >100</text>
<text x="263.20" y="330.30" font-size="8.4" fill="#231f20" textLength="4.20" lengthAdjust="spacingAndGlyphs" stroke="#231f20" stroke-width="0.12" >0</text>
<line x1="316.30" y1="318.3" x2="316.30" y2="321.3" stroke="#2b2b2b" stroke-width="1.0"/>
<text x="314.20" y="330.30" font-size="8.4" fill="#231f20" textLength="4.20" lengthAdjust="spacingAndGlyphs" stroke="#231f20" stroke-width="0.12" >2</text>
<line x1="367.30" y1="318.3" x2="367.30" y2="321.3" stroke="#2b2b2b" stroke-width="1.0"/>
<text x="365.20" y="330.30" font-size="8.4" fill="#231f20" textLength="4.20" lengthAdjust="spacingAndGlyphs" stroke="#231f20" stroke-width="0.12" >4</text>
<line x1="418.30" y1="318.3" x2="418.30" y2="321.3" stroke="#2b2b2b" stroke-width="1.0"/>
<text x="416.20" y="330.30" font-size="8.4" fill="#231f20" textLength="4.20" lengthAdjust="spacingAndGlyphs" stroke="#231f20" stroke-width="0.12" >6</text>
<text x="0" y="0" transform="translate(241.40,306.95) rotate(-90)" font-size="10.0" fill="#444444" textLength="80.70" lengthAdjust="spacingAndGlyphs" stroke="#444444" stroke-width="0.1">Relapse-free survival (%)</text>
<text x="328.50" y="343.00" font-size="10.4" fill="#444444" textLength="51.70" lengthAdjust="spacingAndGlyphs" stroke="#444444" stroke-width="0.05" >Years to relapse</text>
<path d="M265.30,214.20 L270.70,214.20 L270.70,214.90 L277.60,214.90 L277.60,217.50 L283.80,217.50 L283.80,219.10 L290.70,219.10 L290.70,220.30 L296.80,220.30 L296.80,225.20 L303.30,225.20 L303.30,231.10 L309.50,231.10 L309.50,233.40 L316.10,233.40 L316.10,236.00 L322.20,236.00 L322.20,237.20 L328.40,237.20 L328.40,242.20 L335.30,242.20 L335.30,246.70 L341.00,246.70 L341.00,249.00 L347.50,249.00 L347.50,252.90 L354.20,252.90 L354.20,255.40 L361.00,255.40 L361.00,256.70 L373.50,256.70 L373.50,259.60 L380.20,259.60 L380.20,265.40 L424.40,265.40" fill="none" stroke="#d84659" stroke-width="1.3"/>
<line x1="270.70" y1="213.70" x2="270.70" y2="215.20" stroke="#3a3a3a" stroke-width="0.9"/>
<line x1="277.60" y1="214.40" x2="277.60" y2="217.80" stroke="#3a3a3a" stroke-width="0.9"/>
<line x1="283.80" y1="217.00" x2="283.80" y2="219.40" stroke="#3a3a3a" stroke-width="0.9"/>
<line x1="290.70" y1="218.60" x2="290.70" y2="220.60" stroke="#3a3a3a" stroke-width="0.9"/>
<line x1="296.80" y1="219.80" x2="296.80" y2="225.50" stroke="#3a3a3a" stroke-width="0.9"/>
<line x1="303.30" y1="224.70" x2="303.30" y2="231.40" stroke="#3a3a3a" stroke-width="0.9"/>
<line x1="309.50" y1="230.60" x2="309.50" y2="233.70" stroke="#3a3a3a" stroke-width="0.9"/>
<line x1="316.10" y1="232.90" x2="316.10" y2="236.30" stroke="#3a3a3a" stroke-width="0.9"/>
<line x1="322.20" y1="235.50" x2="322.20" y2="237.50" stroke="#3a3a3a" stroke-width="0.9"/>
<line x1="328.40" y1="236.70" x2="328.40" y2="242.50" stroke="#3a3a3a" stroke-width="0.9"/>
<line x1="335.30" y1="241.70" x2="335.30" y2="247.00" stroke="#3a3a3a" stroke-width="0.9"/>
<line x1="341.00" y1="246.20" x2="341.00" y2="249.30" stroke="#3a3a3a" stroke-width="0.9"/>
<line x1="347.50" y1="248.50" x2="347.50" y2="253.20" stroke="#3a3a3a" stroke-width="0.9"/>
<line x1="354.20" y1="252.40" x2="354.20" y2="255.70" stroke="#3a3a3a" stroke-width="0.9"/>
<line x1="361.00" y1="254.90" x2="361.00" y2="257.00" stroke="#3a3a3a" stroke-width="0.9"/>
<line x1="373.50" y1="256.20" x2="373.50" y2="259.90" stroke="#3a3a3a" stroke-width="0.9"/>
<line x1="380.20" y1="259.10" x2="380.20" y2="265.70" stroke="#3a3a3a" stroke-width="0.9"/>
<path d="M265.30,214.20 L277.60,214.20 L277.60,216.50 L283.80,216.50 L283.80,218.50 L290.70,218.50 L290.70,220.00 L296.80,220.00 L296.80,224.20 L303.30,224.20 L303.30,227.20 L309.50,227.20 L309.50,231.40 L316.10,231.40 L316.10,232.60 L322.20,232.60 L322.20,234.30 L347.50,234.30 L347.50,235.60 L354.20,235.60 L354.20,237.50 L360.00,237.50 L360.00,238.80 L380.20,238.80 L380.20,241.90 L411.90,241.90" fill="none" stroke="#4079aa" stroke-width="1.3"/>
<line x1="277.60" y1="213.70" x2="277.60" y2="216.80" stroke="#3a3a3a" stroke-width="0.9"/>
<line x1="283.80" y1="216.00" x2="283.80" y2="218.80" stroke="#3a3a3a" stroke-width="0.9"/>
<line x1="290.70" y1="218.00" x2="290.70" y2="220.30" stroke="#3a3a3a" stroke-width="0.9"/>
<line x1="296.80" y1="219.50" x2="296.80" y2="224.50" stroke="#3a3a3a" stroke-width="0.9"/>
<line x1="303.30" y1="223.70" x2="303.30" y2="227.50" stroke="#3a3a3a" stroke-width="0.9"/>
<line x1="309.50" y1="226.70" x2="309.50" y2="231.70" stroke="#3a3a3a" stroke-width="0.9"/>
<line x1="316.10" y1="230.90" x2="316.10" y2="232.90" stroke="#3a3a3a" stroke-width="0.9"/>
<line x1="322.20" y1="232.10" x2="322.20" y2="234.60" stroke="#3a3a3a" stroke-width="0.9"/>
<line x1="347.50" y1="233.80" x2="347.50" y2="235.90" stroke="#3a3a3a" stroke-width="0.9"/>
<line x1="354.20" y1="235.10" x2="354.20" y2="237.80" stroke="#3a3a3a" stroke-width="0.9"/>
<line x1="360.00" y1="237.00" x2="360.00" y2="239.10" stroke="#3a3a3a" stroke-width="0.9"/>
<line x1="380.20" y1="238.30" x2="380.20" y2="242.20" stroke="#3a3a3a" stroke-width="0.9"/>
<line x1="270.70" y1="212.00" x2="270.70" y2="214.40" stroke="#333" stroke-width="0.8"/>
<line x1="348.50" y1="233.40" x2="348.50" y2="235.80" stroke="#333" stroke-width="0.8"/>
<line x1="366.70" y1="236.60" x2="366.70" y2="239.00" stroke="#333" stroke-width="0.8"/>
<line x1="373.50" y1="236.60" x2="373.50" y2="239.00" stroke="#333" stroke-width="0.8"/>
<line x1="386.90" y1="239.70" x2="386.90" y2="242.10" stroke="#333" stroke-width="0.8"/>
<line x1="392.70" y1="239.70" x2="392.70" y2="242.10" stroke="#333" stroke-width="0.8"/>
<line x1="399.40" y1="239.70" x2="399.40" y2="242.10" stroke="#333" stroke-width="0.8"/>
<line x1="405.20" y1="239.70" x2="405.20" y2="242.10" stroke="#333" stroke-width="0.8"/>
<line x1="411.90" y1="239.70" x2="411.90" y2="242.10" stroke="#333" stroke-width="0.8"/>
<line x1="366.70" y1="254.50" x2="366.70" y2="256.90" stroke="#333" stroke-width="0.8"/>
<line x1="386.90" y1="263.20" x2="386.90" y2="265.60" stroke="#333" stroke-width="0.8"/>
<line x1="392.70" y1="263.20" x2="392.70" y2="265.60" stroke="#333" stroke-width="0.8"/>
<line x1="399.40" y1="263.20" x2="399.40" y2="265.60" stroke="#333" stroke-width="0.8"/>
<line x1="405.20" y1="263.20" x2="405.20" y2="265.60" stroke="#333" stroke-width="0.8"/>
<line x1="411.90" y1="263.20" x2="411.90" y2="265.60" stroke="#333" stroke-width="0.8"/>
<line x1="418.60" y1="263.20" x2="418.60" y2="265.60" stroke="#333" stroke-width="0.8"/>
<line x1="424.40" y1="263.20" x2="424.40" y2="265.60" stroke="#333" stroke-width="0.8"/>
<text x="385.40" y="236.70" font-size="7.6" fill="#231f20" textLength="18.40" lengthAdjust="spacingAndGlyphs" stroke="#231f20" stroke-width="0.12" >N=73</text>
<text x="396.20" y="261.70" font-size="7.6" fill="#231f20" textLength="18.60" lengthAdjust="spacingAndGlyphs" stroke="#231f20" stroke-width="0.12" >N=85</text>
<text x="274.30" y="279.00" font-size="7.6" fill="#231f20" font-style="italic" textLength="35.70" lengthAdjust="spacingAndGlyphs" stroke="#231f20" stroke-width="0.12" >P = 0.0167</text>
<line x1="271.6" y1="294.0" x2="284.4" y2="294.0" stroke="#d84659" stroke-width="1.8" stroke-opacity="0.85"/>
<line x1="278.0" y1="292.0" x2="278.0" y2="294.0" stroke="#333" stroke-width="0.8"/>
<text x="287.50" y="296.70" font-size="7.6" fill="#231f20" textLength="64.00" lengthAdjust="spacingAndGlyphs" stroke="#231f20" stroke-width="0.12" >100% activated NK</text>
<line x1="271.6" y1="306.6" x2="284.4" y2="306.6" stroke="#4079aa" stroke-width="1.8" stroke-opacity="0.85"/>
<line x1="278.0" y1="304.6" x2="278.0" y2="306.6" stroke="#333" stroke-width="0.8"/>
<text x="287.50" y="309.30" font-size="7.6" fill="#231f20" textLength="55.70" lengthAdjust="spacingAndGlyphs" stroke="#231f20" stroke-width="0.12" >100% resting NK</text>
<text x="6.80" y="368.70" font-size="11.8" fill="#000" font-weight="bold" textLength="7.50" lengthAdjust="spacingAndGlyphs" stroke="#000" stroke-width="0.25" >C</text>
<text x="58.60" y="372.30" font-size="9.4" fill="#231f20" textLength="121.70" lengthAdjust="spacingAndGlyphs" stroke="#231f20" stroke-width="0.12" >With CNS involvement (CNS</text>
<text x="180.60" y="368.00" font-size="5.0" fill="#231f20" stroke="#231f20" stroke-width="0.06" >+</text>
<text x="184.00" y="372.30" font-size="9.4" fill="#231f20" stroke="#231f20" stroke-width="0.12" >)</text>
<line x1="40.2" y1="382.09999999999997" x2="40.2" y2="486.8" stroke="#2b2b2b" stroke-width="1.25"/>
<line x1="39.6" y1="486.8" x2="219.4" y2="486.8" stroke="#2b2b2b" stroke-width="1.25"/>
<line x1="37.2" y1="486.80" x2="40.2" y2="486.80" stroke="#2b2b2b" stroke-width="1.0"/>
<text x="30.20" y="490.60" font-size="8.4" fill="#231f20" textLength="4.20" lengthAdjust="spacingAndGlyphs" stroke="#231f20" stroke-width="0.12" >0</text>
<line x1="37.2" y1="465.98" x2="40.2" y2="465.98" stroke="#2b2b2b" stroke-width="1.0"/>
<text x="26.00" y="469.78" font-size="8.4" fill="#231f20" textLength="8.40" lengthAdjust="spacingAndGlyphs" stroke="#231f20" stroke-width="0.12" >20</text>
<line x1="37.2" y1="445.16" x2="40.2" y2="445.16" stroke="#2b2b2b" stroke-width="1.0"/>
<text x="26.00" y="448.96" font-size="8.4" fill="#231f20" textLength="8.40" lengthAdjust="spacingAndGlyphs" stroke="#231f20" stroke-width="0.12" >40</text>
<line x1="37.2" y1="424.34" x2="40.2" y2="424.34" stroke="#2b2b2b" stroke-width="1.0"/>
<text x="26.00" y="428.14" font-size="8.4" fill="#231f20" textLength="8.40" lengthAdjust="spacingAndGlyphs" stroke="#231f20" stroke-width="0.12" >60</text>
<line x1="37.2" y1="403.52" x2="40.2" y2="403.52" stroke="#2b2b2b" stroke-width="1.0"/>
<text x="26.00" y="407.32" font-size="8.4" fill="#231f20" textLength="8.40" lengthAdjust="spacingAndGlyphs" stroke="#231f20" stroke-width="0.12" >80</text>
<line x1="37.2" y1="382.70" x2="40.2" y2="382.70" stroke="#2b2b2b" stroke-width="1.0"/>
<text x="21.80" y="386.50" font-size="8.4" fill="#231f20" textLength="12.60" lengthAdjust="spacingAndGlyphs" stroke="#231f20" stroke-width="0.12" >100</text>
<text x="38.10" y="498.80" font-size="8.4" fill="#231f20" textLength="4.20" lengthAdjust="spacingAndGlyphs" stroke="#231f20" stroke-width="0.12" >0</text>
<line x1="91.26" y1="486.8" x2="91.26" y2="489.8" stroke="#2b2b2b" stroke-width="1.0"/>
<text x="89.16" y="498.80" font-size="8.4" fill="#231f20" textLength="4.20" lengthAdjust="spacingAndGlyphs" stroke="#231f20" stroke-width="0.12" >2</text>
<line x1="142.32" y1="486.8" x2="142.32" y2="489.8" stroke="#2b2b2b" stroke-width="1.0"/>
<text x="140.22" y="498.80" font-size="8.4" fill="#231f20" textLength="4.20" lengthAdjust="spacingAndGlyphs" stroke="#231f20" stroke-width="0.12" >4</text>
<line x1="193.38" y1="486.8" x2="193.38" y2="489.8" stroke="#2b2b2b" stroke-width="1.0"/>
<text x="191.28" y="498.80" font-size="8.4" fill="#231f20" textLength="4.20" lengthAdjust="spacingAndGlyphs" stroke="#231f20" stroke-width="0.12" >6</text>
<text x="0" y="0" transform="translate(14.10,479.55) rotate(-90)" font-size="10.0" fill="#444444" textLength="80.70" lengthAdjust="spacingAndGlyphs" stroke="#444444" stroke-width="0.1">Relapse-free survival (%)</text>
<text x="94.40" y="511.70" font-size="10.4" fill="#444444" textLength="51.60" lengthAdjust="spacingAndGlyphs" stroke="#444444" stroke-width="0.05" >Years to relapse</text>
<path d="M40.20,382.70 L51.80,382.70 L51.80,386.90 L64.50,386.90 L64.50,390.80 L71.10,390.80 L71.10,395.20 L77.40,395.20 L77.40,399.60 L83.80,399.60 L83.80,404.20 L90.30,404.20 L90.30,408.70 L109.50,408.70 L109.50,421.30 L134.80,421.30 L134.80,426.20 L153.40,426.20 L153.40,433.80 L160.20,433.80 L160.20,443.70 L179.20,443.70" fill="none" stroke="#d84659" stroke-width="1.3"/>
<line x1="51.80" y1="382.20" x2="51.80" y2="387.20" stroke="#3a3a3a" stroke-width="0.9"/>
<line x1="64.50" y1="386.40" x2="64.50" y2="391.10" stroke="#3a3a3a" stroke-width="0.9"/>
<line x1="71.10" y1="390.30" x2="71.10" y2="395.50" stroke="#3a3a3a" stroke-width="0.9"/>
<line x1="77.40" y1="394.70" x2="77.40" y2="399.90" stroke="#3a3a3a" stroke-width="0.9"/>
<line x1="83.80" y1="399.10" x2="83.80" y2="404.50" stroke="#3a3a3a" stroke-width="0.9"/>
<line x1="90.30" y1="403.70" x2="90.30" y2="409.00" stroke="#3a3a3a" stroke-width="0.9"/>
<line x1="109.50" y1="408.20" x2="109.50" y2="421.60" stroke="#3a3a3a" stroke-width="0.9"/>
<line x1="134.80" y1="420.80" x2="134.80" y2="426.50" stroke="#3a3a3a" stroke-width="0.9"/>
<line x1="153.40" y1="425.70" x2="153.40" y2="434.10" stroke="#3a3a3a" stroke-width="0.9"/>
<line x1="160.20" y1="433.30" x2="160.20" y2="444.00" stroke="#3a3a3a" stroke-width="0.9"/>
<path d="M40.20,382.70 L51.80,382.70 L51.80,387.90 L121.70,387.90 L121.70,392.50 L185.50,392.50" fill="none" stroke="#4079aa" stroke-width="1.3"/>
<line x1="51.80" y1="382.20" x2="51.80" y2="388.20" stroke="#3a3a3a" stroke-width="0.9"/>
<line x1="121.70" y1="387.40" x2="121.70" y2="392.80" stroke="#3a3a3a" stroke-width="0.9"/>
<line x1="128.50" y1="390.30" x2="128.50" y2="392.70" stroke="#333" stroke-width="0.8"/>
<line x1="134.80" y1="390.30" x2="134.80" y2="392.70" stroke="#333" stroke-width="0.8"/>
<line x1="141.10" y1="390.30" x2="141.10" y2="392.70" stroke="#333" stroke-width="0.8"/>
<line x1="153.80" y1="390.30" x2="153.80" y2="392.70" stroke="#333" stroke-width="0.8"/>
<line x1="160.20" y1="390.30" x2="160.20" y2="392.70" stroke="#333" stroke-width="0.8"/>
<line x1="172.90" y1="390.30" x2="172.90" y2="392.70" stroke="#333" stroke-width="0.8"/>
<line x1="185.50" y1="390.30" x2="185.50" y2="392.70" stroke="#333" stroke-width="0.8"/>
<line x1="128.50" y1="419.10" x2="128.50" y2="421.50" stroke="#333" stroke-width="0.8"/>
<line x1="141.10" y1="424.00" x2="141.10" y2="426.40" stroke="#333" stroke-width="0.8"/>
<line x1="147.50" y1="424.00" x2="147.50" y2="426.40" stroke="#333" stroke-width="0.8"/>
<line x1="179.20" y1="441.50" x2="179.20" y2="443.90" stroke="#333" stroke-width="0.8"/>
<text x="148.10" y="389.30" font-size="7.6" fill="#231f20" textLength="18.00" lengthAdjust="spacingAndGlyphs" stroke="#231f20" stroke-width="0.12" >N=21</text>
<text x="163.30" y="440.80" font-size="7.6" fill="#231f20" textLength="19.10" lengthAdjust="spacingAndGlyphs" stroke="#231f20" stroke-width="0.12" >N=24</text>
<text x="51.80" y="444.80" font-size="7.6" fill="#231f20" font-style="italic" textLength="35.80" lengthAdjust="spacingAndGlyphs" stroke="#231f20" stroke-width="0.12" >P = 0.0098</text>
<line x1="51.3" y1="463.3" x2="65.5" y2="463.3" stroke="#d84659" stroke-width="1.8" stroke-opacity="0.85"/>
<line x1="58.4" y1="461.3" x2="58.4" y2="463.3" stroke="#333" stroke-width="0.8"/>
<text x="68.00" y="466.00" font-size="7.6" fill="#231f20" textLength="91.80" lengthAdjust="spacingAndGlyphs" stroke="#231f20" stroke-width="0.12" >Activated NK &gt; Resting NK</text>
<line x1="51.3" y1="476.3" x2="65.5" y2="476.3" stroke="#4079aa" stroke-width="1.8" stroke-opacity="0.85"/>
<line x1="58.4" y1="474.3" x2="58.4" y2="476.3" stroke="#333" stroke-width="0.8"/>
<text x="68.00" y="479.00" font-size="7.6" fill="#231f20" textLength="91.80" lengthAdjust="spacingAndGlyphs" stroke="#231f20" stroke-width="0.12" >Resting NK &gt; Activated NK</text>
<text x="234.10" y="368.90" font-size="11.8" fill="#000" font-weight="bold" textLength="5.60" lengthAdjust="spacingAndGlyphs" stroke="#000" stroke-width="0.25" >F</text>
<text x="285.80" y="372.60" font-size="9.4" fill="#231f20" textLength="121.60" lengthAdjust="spacingAndGlyphs" stroke="#231f20" stroke-width="0.12" >With CNS involvement (CNS</text>
<text x="407.70" y="368.30" font-size="5.0" fill="#231f20" stroke="#231f20" stroke-width="0.06" >+</text>
<text x="411.20" y="372.60" font-size="9.4" fill="#231f20" stroke="#231f20" stroke-width="0.12" >)</text>
<line x1="267.5" y1="381.4" x2="267.5" y2="486.7" stroke="#2b2b2b" stroke-width="1.25"/>
<line x1="266.9" y1="486.7" x2="446.5" y2="486.7" stroke="#2b2b2b" stroke-width="1.25"/>
<line x1="264.5" y1="486.70" x2="267.5" y2="486.70" stroke="#2b2b2b" stroke-width="1.0"/>
<text x="257.50" y="490.50" font-size="8.4" fill="#231f20" textLength="4.20" lengthAdjust="spacingAndGlyphs" stroke="#231f20" stroke-width="0.12" >0</text>
<line x1="264.5" y1="465.76" x2="267.5" y2="465.76" stroke="#2b2b2b" stroke-width="1.0"/>
<text x="253.30" y="469.56" font-size="8.4" fill="#231f20" textLength="8.40" lengthAdjust="spacingAndGlyphs" stroke="#231f20" stroke-width="0.12" >20</text>
<line x1="264.5" y1="444.82" x2="267.5" y2="444.82" stroke="#2b2b2b" stroke-width="1.0"/>
<text x="253.30" y="448.62" font-size="8.4" fill="#231f20" textLength="8.40" lengthAdjust="spacingAndGlyphs" stroke="#231f20" stroke-width="0.12" >40</text>
<line x1="264.5" y1="423.88" x2="267.5" y2="423.88" stroke="#2b2b2b" stroke-width="1.0"/>
<text x="253.30" y="427.68" font-size="8.4" fill="#231f20" textLength="8.40" lengthAdjust="spacingAndGlyphs" stroke="#231f20" stroke-width="0.12" >60</text>
<line x1="264.5" y1="402.94" x2="267.5" y2="402.94" stroke="#2b2b2b" stroke-width="1.0"/>
<text x="253.30" y="406.74" font-size="8.4" fill="#231f20" textLength="8.40" lengthAdjust="spacingAndGlyphs" stroke="#231f20" stroke-width="0.12" >80</text>
<line x1="264.5" y1="382.00" x2="267.5" y2="382.00" stroke="#2b2b2b" stroke-width="1.0"/>
<text x="249.10" y="385.80" font-size="8.4" fill="#231f20" textLength="12.60" lengthAdjust="spacingAndGlyphs" stroke="#231f20" stroke-width="0.12" >100</text>
<text x="265.40" y="498.70" font-size="8.4" fill="#231f20" textLength="4.20" lengthAdjust="spacingAndGlyphs" stroke="#231f20" stroke-width="0.12" >0</text>
<line x1="318.70" y1="486.7" x2="318.70" y2="489.7" stroke="#2b2b2b" stroke-width="1.0"/>
<text x="316.60" y="498.70" font-size="8.4" fill="#231f20" textLength="4.20" lengthAdjust="spacingAndGlyphs" stroke="#231f20" stroke-width="0.12" >2</text>
<line x1="369.90" y1="486.7" x2="369.90" y2="489.7" stroke="#2b2b2b" stroke-width="1.0"/>
<text x="367.80" y="498.70" font-size="8.4" fill="#231f20" textLength="4.20" lengthAdjust="spacingAndGlyphs" stroke="#231f20" stroke-width="0.12" >4</text>
<line x1="421.10" y1="486.7" x2="421.10" y2="489.7" stroke="#2b2b2b" stroke-width="1.0"/>
<text x="419.00" y="498.70" font-size="8.4" fill="#231f20" textLength="4.20" lengthAdjust="spacingAndGlyphs" stroke="#231f20" stroke-width="0.12" >6</text>
<text x="0" y="0" transform="translate(241.40,479.55) rotate(-90)" font-size="10.0" fill="#444444" textLength="80.70" lengthAdjust="spacingAndGlyphs" stroke="#444444" stroke-width="0.1">Relapse-free survival (%)</text>
<text x="322.00" y="511.70" font-size="10.4" fill="#444444" textLength="51.40" lengthAdjust="spacingAndGlyphs" stroke="#444444" stroke-width="0.05" >Years to relapse</text>
<path d="M267.50,381.90 L279.40,381.90 L279.40,387.50 L298.70,387.50 L298.70,392.80 L312.30,392.80 L312.30,397.90 L317.80,397.90 L317.80,403.40 L336.90,403.40 L336.90,419.20 L363.10,419.20 L363.10,426.90 L381.50,426.90 L381.50,438.30 L388.60,438.30" fill="none" stroke="#d84659" stroke-width="1.3"/>
<line x1="279.40" y1="381.40" x2="279.40" y2="387.80" stroke="#3a3a3a" stroke-width="0.9"/>
<line x1="298.70" y1="387.00" x2="298.70" y2="393.10" stroke="#3a3a3a" stroke-width="0.9"/>
<line x1="312.30" y1="392.30" x2="312.30" y2="398.20" stroke="#3a3a3a" stroke-width="0.9"/>
<line x1="317.80" y1="397.40" x2="317.80" y2="403.70" stroke="#3a3a3a" stroke-width="0.9"/>
<line x1="336.90" y1="402.90" x2="336.90" y2="419.50" stroke="#3a3a3a" stroke-width="0.9"/>
<line x1="363.10" y1="418.70" x2="363.10" y2="427.20" stroke="#3a3a3a" stroke-width="0.9"/>
<line x1="381.50" y1="426.40" x2="381.50" y2="438.60" stroke="#3a3a3a" stroke-width="0.9"/>
<path d="M267.50,381.90 L279.40,381.90 L279.40,390.50 L349.80,390.50 L349.80,397.70 L413.80,397.70" fill="none" stroke="#4079aa" stroke-width="1.3"/>
<line x1="279.40" y1="381.40" x2="279.40" y2="390.80" stroke="#3a3a3a" stroke-width="0.9"/>
<line x1="349.80" y1="390.00" x2="349.80" y2="398.00" stroke="#3a3a3a" stroke-width="0.9"/>
<line x1="356.90" y1="395.50" x2="356.90" y2="397.90" stroke="#333" stroke-width="0.8"/>
<line x1="363.10" y1="395.50" x2="363.10" y2="397.90" stroke="#333" stroke-width="0.8"/>
<line x1="369.20" y1="395.50" x2="369.20" y2="397.90" stroke="#333" stroke-width="0.8"/>
<line x1="381.50" y1="395.50" x2="381.50" y2="397.90" stroke="#333" stroke-width="0.8"/>
<line x1="413.80" y1="395.50" x2="413.80" y2="397.90" stroke="#333" stroke-width="0.8"/>
<line x1="356.30" y1="417.00" x2="356.30" y2="419.40" stroke="#333" stroke-width="0.8"/>
<line x1="369.20" y1="424.70" x2="369.20" y2="427.10" stroke="#333" stroke-width="0.8"/>
<line x1="375.40" y1="424.70" x2="375.40" y2="427.10" stroke="#333" stroke-width="0.8"/>
<line x1="388.60" y1="436.10" x2="388.60" y2="438.50" stroke="#333" stroke-width="0.8"/>
<text x="390.80" y="394.20" font-size="7.6" fill="#231f20" textLength="19.00" lengthAdjust="spacingAndGlyphs" stroke="#231f20" stroke-width="0.12" >N=14</text>
<text x="391.40" y="434.20" font-size="7.6" fill="#231f20" textLength="18.40" lengthAdjust="spacingAndGlyphs" stroke="#231f20" stroke-width="0.12" >N=19</text>
<text x="277.80" y="444.80" font-size="7.6" fill="#231f20" font-style="italic" textLength="37.20" lengthAdjust="spacingAndGlyphs" stroke="#231f20" stroke-width="0.12" >P = 0.0832</text>
<line x1="278.3" y1="463.3" x2="292.0" y2="463.3" stroke="#d84659" stroke-width="1.8" stroke-opacity="0.85"/>
<line x1="285.15" y1="461.3" x2="285.15" y2="463.3" stroke="#333" stroke-width="0.8"/>
<text x="294.30" y="466.00" font-size="7.6" fill="#231f20" textLength="64.00" lengthAdjust="spacingAndGlyphs" stroke="#231f20" stroke-width="0.12" >100% activated NK</text>
<line x1="278.3" y1="476.3" x2="292.0" y2="476.3" stroke="#4079aa" stroke-width="1.8" stroke-opacity="0.85"/>
<line x1="285.15" y1="474.3" x2="285.15" y2="476.3" stroke="#333" stroke-width="0.8"/>
<text x="294.30" y="479.00" font-size="7.6" fill="#231f20" textLength="55.70" lengthAdjust="spacingAndGlyphs" stroke="#231f20" stroke-width="0.12" >100% resting NK</text>
<text x="6.80" y="537.40" font-size="11.8" fill="#000" font-weight="bold" textLength="7.20" lengthAdjust="spacingAndGlyphs" stroke="#000" stroke-width="0.25" >D</text>
<line x1="40.4" y1="547.6999999999999" x2="40.4" y2="666.8" stroke="#2b2b2b" stroke-width="1.25"/>
<line x1="39.8" y1="666.8" x2="220.9" y2="666.8" stroke="#2b2b2b" stroke-width="1.25"/>
<line x1="37.4" y1="666.80" x2="40.4" y2="666.80" stroke="#2b2b2b" stroke-width="1.0"/>
<text x="29.30" y="670.60" font-size="8.4" fill="#231f20" textLength="4.20" lengthAdjust="spacingAndGlyphs" stroke="#231f20" stroke-width="0.12" >0</text>
<line x1="37.4" y1="643.10" x2="40.4" y2="643.10" stroke="#2b2b2b" stroke-width="1.0"/>
<text x="25.10" y="646.90" font-size="8.4" fill="#231f20" textLength="8.40" lengthAdjust="spacingAndGlyphs" stroke="#231f20" stroke-width="0.12" >20</text>
<line x1="37.4" y1="619.40" x2="40.4" y2="619.40" stroke="#2b2b2b" stroke-width="1.0"/>
<text x="25.10" y="623.20" font-size="8.4" fill="#231f20" textLength="8.40" lengthAdjust="spacingAndGlyphs" stroke="#231f20" stroke-width="0.12" >40</text>
<line x1="37.4" y1="595.70" x2="40.4" y2="595.70" stroke="#2b2b2b" stroke-width="1.0"/>
<text x="25.10" y="599.50" font-size="8.4" fill="#231f20" textLength="8.40" lengthAdjust="spacingAndGlyphs" stroke="#231f20" stroke-width="0.12" >60</text>
<line x1="37.4" y1="572.00" x2="40.4" y2="572.00" stroke="#2b2b2b" stroke-width="1.0"/>
<text x="25.10" y="575.80" font-size="8.4" fill="#231f20" textLength="8.40" lengthAdjust="spacingAndGlyphs" stroke="#231f20" stroke-width="0.12" >80</text>
<line x1="37.4" y1="548.30" x2="40.4" y2="548.30" stroke="#2b2b2b" stroke-width="1.0"/>
<text x="20.90" y="552.10" font-size="8.4" fill="#231f20" textLength="12.60" lengthAdjust="spacingAndGlyphs" stroke="#231f20" stroke-width="0.12" >100</text>
<text x="38.30" y="678.80" font-size="8.4" fill="#231f20" textLength="4.20" lengthAdjust="spacingAndGlyphs" stroke="#231f20" stroke-width="0.12" >0</text>
<line x1="91.80" y1="666.8" x2="91.80" y2="669.8" stroke="#2b2b2b" stroke-width="1.0"/>
<text x="89.70" y="678.80" font-size="8.4" fill="#231f20" textLength="4.20" lengthAdjust="spacingAndGlyphs" stroke="#231f20" stroke-width="0.12" >2</text>
<line x1="143.20" y1="666.8" x2="143.20" y2="669.8" stroke="#2b2b2b" stroke-width="1.0"/>
<text x="141.10" y="678.80" font-size="8.4" fill="#231f20" textLength="4.20" lengthAdjust="spacingAndGlyphs" stroke="#231f20" stroke-width="0.12" >4</text>
<line x1="194.60" y1="666.8" x2="194.60" y2="669.8" stroke="#2b2b2b" stroke-width="1.0"/>
<text x="192.50" y="678.80" font-size="8.4" fill="#231f20" textLength="4.20" lengthAdjust="spacingAndGlyphs" stroke="#231f20" stroke-width="0.12" >6</text>
<text x="0" y="0" transform="translate(14.50,652.60) rotate(-90)" font-size="10.0" fill="#444444" textLength="80.20" lengthAdjust="spacingAndGlyphs" stroke="#444444" stroke-width="0.1">Relapse-free survival (%)</text>
<text x="98.50" y="688.60" font-size="10.4" fill="#444444" textLength="50.80" lengthAdjust="spacingAndGlyphs" stroke="#444444" stroke-width="0.05" >Years to relapse</text>
<path d="M40.40,548.20 L46.60,548.20 L46.60,551.70 L53.00,551.70 L53.00,555.10 L65.70,555.10 L65.70,558.00 L72.00,558.00 L72.00,564.90 L78.40,564.90 L78.40,575.30 L85.30,575.30 L85.30,582.20 L91.20,582.20 L91.20,584.20 L97.50,584.20 L97.50,587.70 L104.40,587.70 L104.40,592.30 L110.80,592.30 L110.80,602.70 L123.40,602.70 L123.40,609.00 L129.80,609.00 L129.80,613.30 L148.50,613.30 L148.50,620.00 L155.50,620.00 L155.50,629.20 L162.30,629.20 L162.30,647.70 L180.80,647.70" fill="none" stroke="#d84659" stroke-width="1.3" stroke-dasharray="1.3,2.2"/>
<line x1="46.60" y1="549.10" x2="46.60" y2="552.10" stroke="#333" stroke-width="0.9"/>
<line x1="53.00" y1="552.50" x2="53.00" y2="555.50" stroke="#333" stroke-width="0.9"/>
<line x1="65.70" y1="555.40" x2="65.70" y2="558.40" stroke="#333" stroke-width="0.9"/>
<line x1="72.00" y1="562.30" x2="72.00" y2="565.30" stroke="#333" stroke-width="0.9"/>
<line x1="78.40" y1="572.70" x2="78.40" y2="575.70" stroke="#333" stroke-width="0.9"/>
<line x1="85.30" y1="579.60" x2="85.30" y2="582.60" stroke="#333" stroke-width="0.9"/>
<line x1="91.20" y1="581.60" x2="91.20" y2="584.60" stroke="#333" stroke-width="0.9"/>
<line x1="97.50" y1="585.10" x2="97.50" y2="588.10" stroke="#333" stroke-width="0.9"/>
<line x1="104.40" y1="589.70" x2="104.40" y2="592.70" stroke="#333" stroke-width="0.9"/>
<line x1="110.80" y1="600.10" x2="110.80" y2="603.10" stroke="#333" stroke-width="0.9"/>
<line x1="123.40" y1="606.40" x2="123.40" y2="609.40" stroke="#333" stroke-width="0.9"/>
<line x1="129.80" y1="610.70" x2="129.80" y2="613.70" stroke="#333" stroke-width="0.9"/>
<line x1="148.50" y1="617.40" x2="148.50" y2="620.40" stroke="#333" stroke-width="0.9"/>
<line x1="155.50" y1="626.60" x2="155.50" y2="629.60" stroke="#333" stroke-width="0.9"/>
<line x1="162.30" y1="645.10" x2="162.30" y2="648.10" stroke="#333" stroke-width="0.9"/>
<path d="M40.40,548.20 L53.00,548.20 L53.00,552.20 L65.70,552.20 L65.70,560.30 L72.00,560.30 L72.00,564.90 L78.40,564.90 L78.40,568.40 L91.20,568.40 L91.20,572.70 L97.50,572.70 L97.50,577.30 L123.40,577.30 L123.40,581.30 L129.80,581.30 L129.80,590.60 L136.10,590.60 L136.10,608.40 L155.50,608.40 L155.50,617.80 L183.80,617.80" fill="none" stroke="#4079aa" stroke-width="1.3" stroke-dasharray="1.3,2.2"/>
<line x1="53.00" y1="549.60" x2="53.00" y2="552.60" stroke="#333" stroke-width="0.9"/>
<line x1="65.70" y1="557.70" x2="65.70" y2="560.70" stroke="#333" stroke-width="0.9"/>
<line x1="72.00" y1="562.30" x2="72.00" y2="565.30" stroke="#333" stroke-width="0.9"/>
<line x1="78.40" y1="565.80" x2="78.40" y2="568.80" stroke="#333" stroke-width="0.9"/>
<line x1="91.20" y1="570.10" x2="91.20" y2="573.10" stroke="#333" stroke-width="0.9"/>
<line x1="97.50" y1="574.70" x2="97.50" y2="577.70" stroke="#333" stroke-width="0.9"/>
<line x1="123.40" y1="578.70" x2="123.40" y2="581.70" stroke="#333" stroke-width="0.9"/>
<line x1="129.80" y1="588.00" x2="129.80" y2="591.00" stroke="#333" stroke-width="0.9"/>
<line x1="136.10" y1="605.80" x2="136.10" y2="608.80" stroke="#333" stroke-width="0.9"/>
<line x1="155.50" y1="615.20" x2="155.50" y2="618.20" stroke="#333" stroke-width="0.9"/>
<path d="M40.40,548.20 L53.00,548.20 L53.00,550.60 L65.70,550.60 L65.70,554.50 L72.00,554.50 L72.00,560.50 L78.40,560.50 L78.40,569.00 L91.20,569.00 L91.20,571.30 L104.40,571.30 L104.40,577.30 L110.80,577.30 L110.80,579.40 L117.10,579.40 L117.10,583.60 L123.40,583.60 L123.40,586.00 L129.80,586.00 L129.80,588.30 L136.10,588.30 L136.10,590.60 L155.00,590.60 L155.00,595.00 L187.50,595.00" fill="none" stroke="#d84659" stroke-width="1.3"/>
<line x1="53.00" y1="547.70" x2="53.00" y2="550.90" stroke="#3a3a3a" stroke-width="0.9"/>
<line x1="65.70" y1="550.10" x2="65.70" y2="554.80" stroke="#3a3a3a" stroke-width="0.9"/>
<line x1="72.00" y1="554.00" x2="72.00" y2="560.80" stroke="#3a3a3a" stroke-width="0.9"/>
<line x1="78.40" y1="560.00" x2="78.40" y2="569.30" stroke="#3a3a3a" stroke-width="0.9"/>
<line x1="91.20" y1="568.50" x2="91.20" y2="571.60" stroke="#3a3a3a" stroke-width="0.9"/>
<line x1="104.40" y1="570.80" x2="104.40" y2="577.60" stroke="#3a3a3a" stroke-width="0.9"/>
<line x1="110.80" y1="576.80" x2="110.80" y2="579.70" stroke="#3a3a3a" stroke-width="0.9"/>
<line x1="117.10" y1="578.90" x2="117.10" y2="583.90" stroke="#3a3a3a" stroke-width="0.9"/>
<line x1="123.40" y1="583.10" x2="123.40" y2="586.30" stroke="#3a3a3a" stroke-width="0.9"/>
<line x1="129.80" y1="585.50" x2="129.80" y2="588.60" stroke="#3a3a3a" stroke-width="0.9"/>
<line x1="136.10" y1="587.80" x2="136.10" y2="590.90" stroke="#3a3a3a" stroke-width="0.9"/>
<line x1="155.00" y1="590.10" x2="155.00" y2="595.30" stroke="#3a3a3a" stroke-width="0.9"/>
<path d="M40.40,548.20 L53.00,548.20 L53.00,550.20 L65.70,550.20 L65.70,551.70 L72.00,551.70 L72.00,555.90 L78.40,555.90 L78.40,557.80 L85.30,557.80 L85.30,560.00 L117.10,560.00 L117.10,561.80 L187.50,561.80" fill="none" stroke="#4079aa" stroke-width="1.3"/>
<line x1="53.00" y1="547.70" x2="53.00" y2="550.50" stroke="#3a3a3a" stroke-width="0.9"/>
<line x1="65.70" y1="549.70" x2="65.70" y2="552.00" stroke="#3a3a3a" stroke-width="0.9"/>
<line x1="72.00" y1="551.20" x2="72.00" y2="556.20" stroke="#3a3a3a" stroke-width="0.9"/>
<line x1="78.40" y1="555.40" x2="78.40" y2="558.10" stroke="#3a3a3a" stroke-width="0.9"/>
<line x1="85.30" y1="557.30" x2="85.30" y2="560.30" stroke="#3a3a3a" stroke-width="0.9"/>
<line x1="117.10" y1="559.50" x2="117.10" y2="562.10" stroke="#3a3a3a" stroke-width="0.9"/>
<line x1="46.60" y1="544.70" x2="46.60" y2="548.40" stroke="#333" stroke-width="0.8"/>
<line x1="123.50" y1="559.60" x2="123.50" y2="562.00" stroke="#333" stroke-width="0.8"/>
<line x1="129.80" y1="559.60" x2="129.80" y2="562.00" stroke="#333" stroke-width="0.8"/>
<line x1="136.10" y1="559.60" x2="136.10" y2="562.00" stroke="#333" stroke-width="0.8"/>
<line x1="142.50" y1="559.60" x2="142.50" y2="562.00" stroke="#333" stroke-width="0.8"/>
<line x1="148.90" y1="559.60" x2="148.90" y2="562.00" stroke="#333" stroke-width="0.8"/>
<line x1="155.30" y1="559.60" x2="155.30" y2="562.00" stroke="#333" stroke-width="0.8"/>
<line x1="161.70" y1="559.60" x2="161.70" y2="562.00" stroke="#333" stroke-width="0.8"/>
<line x1="168.10" y1="559.60" x2="168.10" y2="562.00" stroke="#333" stroke-width="0.8"/>
<line x1="174.50" y1="559.60" x2="174.50" y2="562.00" stroke="#333" stroke-width="0.8"/>
<line x1="180.90" y1="559.60" x2="180.90" y2="562.00" stroke="#333" stroke-width="0.8"/>
<line x1="187.50" y1="559.60" x2="187.50" y2="562.00" stroke="#333" stroke-width="0.8"/>
<line x1="161.70" y1="592.80" x2="161.70" y2="595.20" stroke="#333" stroke-width="0.8"/>
<line x1="168.10" y1="592.80" x2="168.10" y2="595.20" stroke="#333" stroke-width="0.8"/>
<line x1="174.50" y1="592.80" x2="174.50" y2="595.20" stroke="#333" stroke-width="0.8"/>
<line x1="180.90" y1="592.80" x2="180.90" y2="595.20" stroke="#333" stroke-width="0.8"/>
<line x1="187.50" y1="592.80" x2="187.50" y2="595.20" stroke="#333" stroke-width="0.8"/>
<line x1="160.00" y1="615.60" x2="160.00" y2="618.00" stroke="#333" stroke-width="0.8"/>
<line x1="168.10" y1="615.60" x2="168.10" y2="618.00" stroke="#333" stroke-width="0.8"/>
<line x1="174.50" y1="615.60" x2="174.50" y2="618.00" stroke="#333" stroke-width="0.8"/>
<line x1="183.80" y1="615.60" x2="183.80" y2="618.00" stroke="#333" stroke-width="0.8"/>
<line x1="180.80" y1="645.50" x2="180.80" y2="647.90" stroke="#333" stroke-width="0.8"/>
<text x="110.70" y="556.30" font-size="6.6" fill="#231f20" textLength="120.60" lengthAdjust="spacingAndGlyphs" stroke="#231f20" stroke-width="0.06" >MRD<tspan font-size="4.2" dy="-2.6">−</tspan><tspan dy="2.6"> Resting NK &gt; Activated NK (N=63)</tspan></text>
<text x="158.80" y="580.00" font-size="6.6" fill="#231f20" textLength="63.70" lengthAdjust="spacingAndGlyphs" stroke="#231f20" stroke-width="0.06" >MRD<tspan font-size="4.2" dy="-2.6">−</tspan><tspan dy="2.6"> Activated NK &gt;</tspan></text>
<text x="158.80" y="588.80" font-size="6.6" fill="#231f20" textLength="55.70" lengthAdjust="spacingAndGlyphs" stroke="#231f20" stroke-width="0.06" >Resting NK (N=57)</text>
<text x="181.30" y="616.30" font-size="6.6" fill="#231f20" textLength="58.20" lengthAdjust="spacingAndGlyphs" stroke="#231f20" stroke-width="0.06" >MRD<tspan font-size="4.2" dy="-2.6">+</tspan><tspan dy="2.6"> Resting NK &gt;</tspan></text>
<text x="181.70" y="625.50" font-size="6.6" fill="#231f20" textLength="61.50" lengthAdjust="spacingAndGlyphs" stroke="#231f20" stroke-width="0.06" >Activated NK (N=31)</text>
<text x="85.50" y="660.30" font-size="6.6" fill="#231f20" textLength="123.10" lengthAdjust="spacingAndGlyphs" stroke="#231f20" stroke-width="0.06" >MRD<tspan font-size="4.2" dy="-2.6">+</tspan><tspan dy="2.6"> Activated NK &gt; Resting NK (N=36)</tspan></text>
<text x="53.80" y="627.60" font-size="7.2" fill="#231f20" font-style="italic" textLength="32.50" lengthAdjust="spacingAndGlyphs" stroke="#231f20" stroke-width="0.06" >P = 0.0162</text>
<text x="265.30" y="537.40" font-size="11.8" fill="#000" font-weight="bold" textLength="7.60" lengthAdjust="spacingAndGlyphs" stroke="#000" stroke-width="0.25" >G</text>
<line x1="299.2" y1="547.1" x2="299.2" y2="666.2" stroke="#2b2b2b" stroke-width="1.25"/>
<line x1="298.59999999999997" y1="666.2" x2="479.1" y2="666.2" stroke="#2b2b2b" stroke-width="1.25"/>
<line x1="296.2" y1="666.20" x2="299.2" y2="666.20" stroke="#2b2b2b" stroke-width="1.0"/>
<text x="289.00" y="670.00" font-size="8.4" fill="#231f20" textLength="4.20" lengthAdjust="spacingAndGlyphs" stroke="#231f20" stroke-width="0.12" >0</text>
<line x1="296.2" y1="642.50" x2="299.2" y2="642.50" stroke="#2b2b2b" stroke-width="1.0"/>
<text x="284.80" y="646.30" font-size="8.4" fill="#231f20" textLength="8.40" lengthAdjust="spacingAndGlyphs" stroke="#231f20" stroke-width="0.12" >20</text>
<line x1="296.2" y1="618.80" x2="299.2" y2="618.80" stroke="#2b2b2b" stroke-width="1.0"/>
<text x="284.80" y="622.60" font-size="8.4" fill="#231f20" textLength="8.40" lengthAdjust="spacingAndGlyphs" stroke="#231f20" stroke-width="0.12" >40</text>
<line x1="296.2" y1="595.10" x2="299.2" y2="595.10" stroke="#2b2b2b" stroke-width="1.0"/>
<text x="284.80" y="598.90" font-size="8.4" fill="#231f20" textLength="8.40" lengthAdjust="spacingAndGlyphs" stroke="#231f20" stroke-width="0.12" >60</text>
<line x1="296.2" y1="571.40" x2="299.2" y2="571.40" stroke="#2b2b2b" stroke-width="1.0"/>
<text x="284.80" y="575.20" font-size="8.4" fill="#231f20" textLength="8.40" lengthAdjust="spacingAndGlyphs" stroke="#231f20" stroke-width="0.12" >80</text>
<line x1="296.2" y1="547.70" x2="299.2" y2="547.70" stroke="#2b2b2b" stroke-width="1.0"/>
<text x="280.60" y="551.50" font-size="8.4" fill="#231f20" textLength="12.60" lengthAdjust="spacingAndGlyphs" stroke="#231f20" stroke-width="0.12" >100</text>
<text x="297.10" y="678.20" font-size="8.4" fill="#231f20" textLength="4.20" lengthAdjust="spacingAndGlyphs" stroke="#231f20" stroke-width="0.12" >0</text>
<line x1="350.50" y1="666.2" x2="350.50" y2="669.2" stroke="#2b2b2b" stroke-width="1.0"/>
<text x="348.40" y="678.20" font-size="8.4" fill="#231f20" textLength="4.20" lengthAdjust="spacingAndGlyphs" stroke="#231f20" stroke-width="0.12" >2</text>
<line x1="401.80" y1="666.2" x2="401.80" y2="669.2" stroke="#2b2b2b" stroke-width="1.0"/>
<text x="399.70" y="678.20" font-size="8.4" fill="#231f20" textLength="4.20" lengthAdjust="spacingAndGlyphs" stroke="#231f20" stroke-width="0.12" >4</text>
<line x1="453.10" y1="666.2" x2="453.10" y2="669.2" stroke="#2b2b2b" stroke-width="1.0"/>
<text x="451.00" y="678.20" font-size="8.4" fill="#231f20" textLength="4.20" lengthAdjust="spacingAndGlyphs" stroke="#231f20" stroke-width="0.12" >6</text>
<text x="0" y="0" transform="translate(277.20,652.60) rotate(-90)" font-size="10.0" fill="#444444" textLength="80.50" lengthAdjust="spacingAndGlyphs" stroke="#444444" stroke-width="0.1">Relapse-free survival (%)</text>
<text x="360.90" y="688.20" font-size="10.4" fill="#444444" textLength="52.30" lengthAdjust="spacingAndGlyphs" stroke="#444444" stroke-width="0.05" >Years to relapse</text>
<path d="M299.20,547.30 L304.70,547.30 L304.70,549.60 L311.40,549.60 L311.40,554.40 L323.90,554.40 L323.90,558.30 L330.70,558.30 L330.70,566.00 L337.40,566.00 L337.40,573.70 L343.20,573.70 L343.20,581.30 L349.90,581.30 L349.90,586.20 L355.40,586.20 L355.40,590.00 L362.30,590.00 L362.30,593.80 L368.50,593.80 L368.50,606.20 L381.50,606.20 L381.50,613.80 L387.70,613.80 L387.70,617.70 L406.90,617.70 L406.90,627.70 L413.10,627.70 L413.10,640.50" fill="none" stroke="#d84659" stroke-width="1.3" stroke-dasharray="1.3,2.2"/>
<line x1="304.70" y1="547.00" x2="304.70" y2="550.00" stroke="#333" stroke-width="0.9"/>
<line x1="311.40" y1="551.80" x2="311.40" y2="554.80" stroke="#333" stroke-width="0.9"/>
<line x1="323.90" y1="555.70" x2="323.90" y2="558.70" stroke="#333" stroke-width="0.9"/>
<line x1="330.70" y1="563.40" x2="330.70" y2="566.40" stroke="#333" stroke-width="0.9"/>
<line x1="337.40" y1="571.10" x2="337.40" y2="574.10" stroke="#333" stroke-width="0.9"/>
<line x1="343.20" y1="578.70" x2="343.20" y2="581.70" stroke="#333" stroke-width="0.9"/>
<line x1="349.90" y1="583.60" x2="349.90" y2="586.60" stroke="#333" stroke-width="0.9"/>
<line x1="355.40" y1="587.40" x2="355.40" y2="590.40" stroke="#333" stroke-width="0.9"/>
<line x1="362.30" y1="591.20" x2="362.30" y2="594.20" stroke="#333" stroke-width="0.9"/>
<line x1="368.50" y1="603.60" x2="368.50" y2="606.60" stroke="#333" stroke-width="0.9"/>
<line x1="381.50" y1="611.20" x2="381.50" y2="614.20" stroke="#333" stroke-width="0.9"/>
<line x1="387.70" y1="615.10" x2="387.70" y2="618.10" stroke="#333" stroke-width="0.9"/>
<line x1="406.90" y1="625.10" x2="406.90" y2="628.10" stroke="#333" stroke-width="0.9"/>
<line x1="413.10" y1="637.90" x2="413.10" y2="640.90" stroke="#333" stroke-width="0.9"/>
<path d="M299.20,547.30 L311.40,547.30 L311.40,553.00 L330.70,553.00 L330.70,559.20 L337.40,559.20 L337.40,564.60 L349.90,564.60 L349.90,570.80 L355.40,570.80 L355.40,577.70 L381.50,577.70 L381.50,583.10 L387.70,583.10 L387.70,590.00 L393.80,590.00 L393.80,598.50 L413.10,598.50 L413.10,609.20 L446.20,609.20" fill="none" stroke="#4079aa" stroke-width="1.3" stroke-dasharray="1.3,2.2"/>
<line x1="311.40" y1="550.40" x2="311.40" y2="553.40" stroke="#333" stroke-width="0.9"/>
<line x1="330.70" y1="556.60" x2="330.70" y2="559.60" stroke="#333" stroke-width="0.9"/>
<line x1="337.40" y1="562.00" x2="337.40" y2="565.00" stroke="#333" stroke-width="0.9"/>
<line x1="349.90" y1="568.20" x2="349.90" y2="571.20" stroke="#333" stroke-width="0.9"/>
<line x1="355.40" y1="575.10" x2="355.40" y2="578.10" stroke="#333" stroke-width="0.9"/>
<line x1="381.50" y1="580.50" x2="381.50" y2="583.50" stroke="#333" stroke-width="0.9"/>
<line x1="387.70" y1="587.40" x2="387.70" y2="590.40" stroke="#333" stroke-width="0.9"/>
<line x1="393.80" y1="595.90" x2="393.80" y2="598.90" stroke="#333" stroke-width="0.9"/>
<line x1="413.10" y1="606.60" x2="413.10" y2="609.60" stroke="#333" stroke-width="0.9"/>
<path d="M299.20,546.90 L311.40,546.90 L311.40,548.70 L317.20,548.70 L317.20,550.60 L330.70,550.60 L330.70,555.80 L337.40,555.80 L337.40,564.00 L349.90,564.00 L349.90,566.00 L362.30,566.00 L362.30,573.40 L368.50,573.40 L368.50,575.40 L375.40,575.40 L375.40,580.50 L387.70,580.50 L387.70,583.10 L394.60,583.10 L394.60,586.20 L413.10,586.20 L413.10,591.20 L446.20,591.20" fill="none" stroke="#d84659" stroke-width="1.3"/>
<line x1="311.40" y1="546.40" x2="311.40" y2="549.00" stroke="#3a3a3a" stroke-width="0.9"/>
<line x1="317.20" y1="548.20" x2="317.20" y2="550.90" stroke="#3a3a3a" stroke-width="0.9"/>
<line x1="330.70" y1="550.10" x2="330.70" y2="556.10" stroke="#3a3a3a" stroke-width="0.9"/>
<line x1="337.40" y1="555.30" x2="337.40" y2="564.30" stroke="#3a3a3a" stroke-width="0.9"/>
<line x1="349.90" y1="563.50" x2="349.90" y2="566.30" stroke="#3a3a3a" stroke-width="0.9"/>
<line x1="362.30" y1="565.50" x2="362.30" y2="573.70" stroke="#3a3a3a" stroke-width="0.9"/>
<line x1="368.50" y1="572.90" x2="368.50" y2="575.70" stroke="#3a3a3a" stroke-width="0.9"/>
<line x1="375.40" y1="574.90" x2="375.40" y2="580.80" stroke="#3a3a3a" stroke-width="0.9"/>
<line x1="387.70" y1="580.00" x2="387.70" y2="583.40" stroke="#3a3a3a" stroke-width="0.9"/>
<line x1="394.60" y1="582.60" x2="394.60" y2="586.50" stroke="#3a3a3a" stroke-width="0.9"/>
<line x1="413.10" y1="585.70" x2="413.10" y2="591.50" stroke="#3a3a3a" stroke-width="0.9"/>
<path d="M299.20,547.30 L311.40,547.30 L311.40,549.20 L323.90,549.20 L323.90,551.50 L330.70,551.50 L330.70,556.90 L337.40,556.90 L337.40,560.20 L343.20,560.20 L343.20,562.80 L446.20,562.80" fill="none" stroke="#4079aa" stroke-width="1.3"/>
<line x1="311.40" y1="546.80" x2="311.40" y2="549.50" stroke="#3a3a3a" stroke-width="0.9"/>
<line x1="323.90" y1="548.70" x2="323.90" y2="551.80" stroke="#3a3a3a" stroke-width="0.9"/>
<line x1="330.70" y1="551.00" x2="330.70" y2="557.20" stroke="#3a3a3a" stroke-width="0.9"/>
<line x1="337.40" y1="556.40" x2="337.40" y2="560.50" stroke="#3a3a3a" stroke-width="0.9"/>
<line x1="343.20" y1="559.70" x2="343.20" y2="563.10" stroke="#3a3a3a" stroke-width="0.9"/>
<line x1="304.70" y1="543.80" x2="304.70" y2="547.50" stroke="#333" stroke-width="0.8"/>
<line x1="381.50" y1="560.60" x2="381.50" y2="563.00" stroke="#333" stroke-width="0.8"/>
<line x1="387.70" y1="560.60" x2="387.70" y2="563.00" stroke="#333" stroke-width="0.8"/>
<line x1="393.80" y1="560.60" x2="393.80" y2="563.00" stroke="#333" stroke-width="0.8"/>
<line x1="400.80" y1="560.60" x2="400.80" y2="563.00" stroke="#333" stroke-width="0.8"/>
<line x1="406.90" y1="560.60" x2="406.90" y2="563.00" stroke="#333" stroke-width="0.8"/>
<line x1="413.10" y1="560.60" x2="413.10" y2="563.00" stroke="#333" stroke-width="0.8"/>
<line x1="419.20" y1="560.60" x2="419.20" y2="563.00" stroke="#333" stroke-width="0.8"/>
<line x1="425.50" y1="560.60" x2="425.50" y2="563.00" stroke="#333" stroke-width="0.8"/>
<line x1="431.80" y1="560.60" x2="431.80" y2="563.00" stroke="#333" stroke-width="0.8"/>
<line x1="438.20" y1="560.60" x2="438.20" y2="563.00" stroke="#333" stroke-width="0.8"/>
<line x1="446.20" y1="560.60" x2="446.20" y2="563.00" stroke="#333" stroke-width="0.8"/>
<line x1="400.80" y1="584.00" x2="400.80" y2="586.40" stroke="#333" stroke-width="0.8"/>
<line x1="406.90" y1="584.00" x2="406.90" y2="586.40" stroke="#333" stroke-width="0.8"/>
<line x1="419.20" y1="589.00" x2="419.20" y2="591.40" stroke="#333" stroke-width="0.8"/>
<line x1="425.50" y1="589.00" x2="425.50" y2="591.40" stroke="#333" stroke-width="0.8"/>
<line x1="431.80" y1="589.00" x2="431.80" y2="591.40" stroke="#333" stroke-width="0.8"/>
<line x1="438.20" y1="589.00" x2="438.20" y2="591.40" stroke="#333" stroke-width="0.8"/>
<line x1="446.20" y1="589.00" x2="446.20" y2="591.40" stroke="#333" stroke-width="0.8"/>
<line x1="419.20" y1="607.00" x2="419.20" y2="609.40" stroke="#333" stroke-width="0.8"/>
<line x1="425.50" y1="607.00" x2="425.50" y2="609.40" stroke="#333" stroke-width="0.8"/>
<line x1="431.80" y1="607.00" x2="431.80" y2="609.40" stroke="#333" stroke-width="0.8"/>
<line x1="446.20" y1="607.00" x2="446.20" y2="609.40" stroke="#333" stroke-width="0.8"/>
<text x="384.00" y="557.40" font-size="6.6" fill="#231f20" textLength="92.30" lengthAdjust="spacingAndGlyphs" stroke="#231f20" stroke-width="0.06" >MRD<tspan font-size="4.2" dy="-2.6">−</tspan><tspan dy="2.6"> 100% Resting NK (N=44)</tspan></text>
<text x="416.90" y="581.90" font-size="6.6" fill="#231f20" textLength="65.30" lengthAdjust="spacingAndGlyphs" stroke="#231f20" stroke-width="0.06" >MRD<tspan font-size="4.2" dy="-2.6">−</tspan><tspan dy="2.6"> 100% Activated</tspan></text>
<text x="461.50" y="590.80" font-size="6.6" fill="#231f20" textLength="20.70" lengthAdjust="spacingAndGlyphs" stroke="#231f20" stroke-width="0.06" >(N=49)</text>
<text x="426.20" y="605.60" font-size="6.6" fill="#231f20" textLength="58.40" lengthAdjust="spacingAndGlyphs" stroke="#231f20" stroke-width="0.06" >MRD<tspan font-size="4.2" dy="-2.6">+</tspan><tspan dy="2.6"> 100% Resting</tspan></text>
<text x="464.60" y="614.80" font-size="6.6" fill="#231f20" textLength="20.00" lengthAdjust="spacingAndGlyphs" stroke="#231f20" stroke-width="0.06" >(N=20)</text>
<text x="356.00" y="660.00" font-size="6.6" fill="#231f20" textLength="100.30" lengthAdjust="spacingAndGlyphs" stroke="#231f20" stroke-width="0.06" >MRD<tspan font-size="4.2" dy="-2.6">+</tspan><tspan dy="2.6"> 100% Activated NK (N=30)</tspan></text>
<text x="312.50" y="626.80" font-size="7.2" fill="#231f20" font-style="italic" textLength="32.00" lengthAdjust="spacingAndGlyphs" stroke="#231f20" stroke-width="0.06" >P = 0.0240</text>
<rect x="0.5" y="0.5" width="518.9" height="701.9" fill="none" stroke="#111" stroke-width="1.3"/>
</svg>
</body></html>
